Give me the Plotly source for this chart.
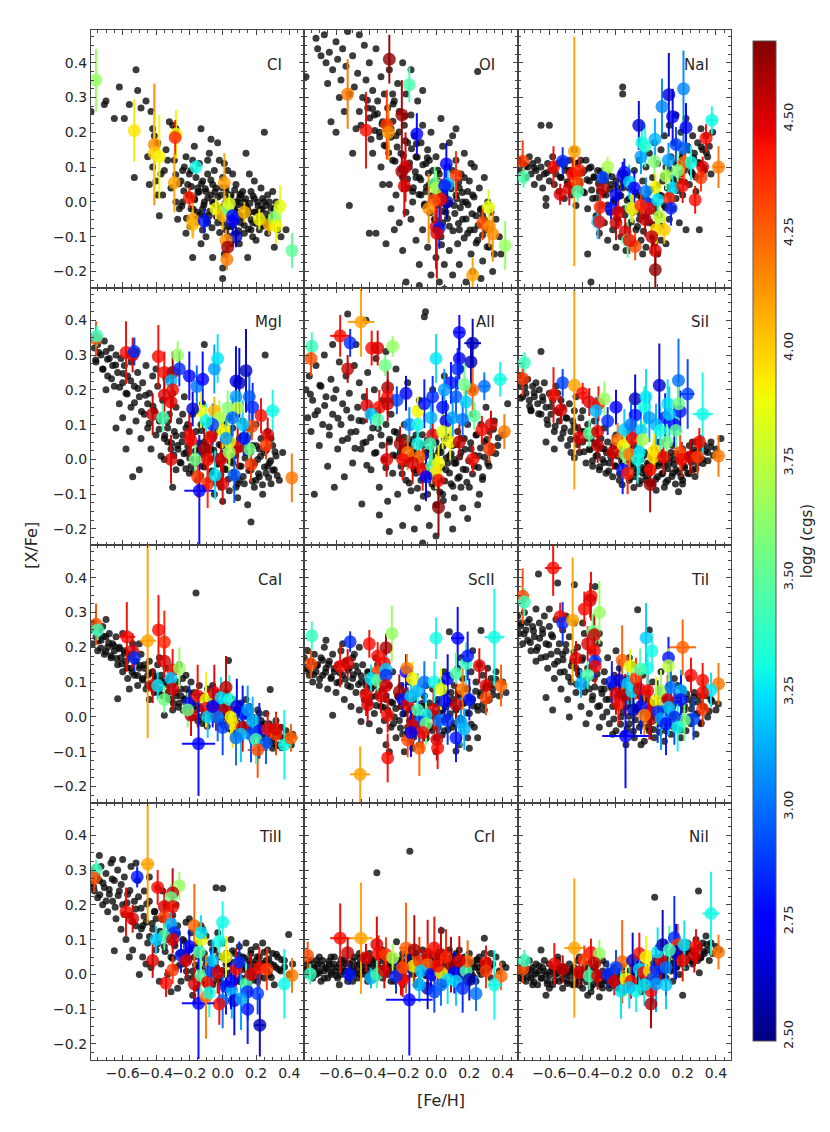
import plotly.graph_objects as go
from plotly.colors import sample_colorscale

# abundance panels, top-left to bottom-right
LABELS = ['CI', 'OI', 'NaI', 'MgI', 'AlI', 'SiI', 'CaI', 'ScII', 'TiI', 'TiII', 'CrI', 'NiI']

# field stars (black): ([Fe/H], [X/Fe])
FIELD_CI = [(-0.79,0.26),(-0.71,0.28),(-0.70,0.29),(-0.65,0.24),(-0.62,0.33),(-0.59,0.24),(-0.56,0.28),(-0.53,0.07),(-0.52,0.38),(-0.51,0.32),
    (-0.49,0.27),(-0.46,0.29),(-0.45,0.13),(-0.44,0.05),(-0.43,0.26),(-0.42,0.21),(-0.42,0.10),(-0.41,0.19),(-0.40,0.06),(-0.39,0.02),
    (-0.39,0.17),(-0.38,-0.04),(-0.37,0.08),(-0.35,0.09),(-0.33,0.12),(-0.32,0.23),(-0.31,0.04),(-0.30,0.22),(-0.29,0.12),(-0.28,0.21),
    (-0.28,0.00),(-0.27,-0.05),(-0.26,-0.02),(-0.25,0.06),(-0.24,0.00),(-0.23,0.10),(-0.22,0.13),(-0.22,-0.09),(-0.21,0.05),(-0.20,0.02),
    (-0.19,0.09),(-0.19,-0.02),(-0.18,0.12),(-0.18,-0.16),(-0.17,0.16),(-0.16,0.07),(-0.16,-0.05),(-0.15,0.04),(-0.15,-0.03),(-0.14,0.11),
    (-0.13,0.21),(-0.13,-0.12),(-0.12,0.06),(-0.12,-0.02),(-0.11,0.00),(-0.10,0.03),(-0.10,-0.10),(-0.09,0.08),(-0.09,-0.06),(-0.08,0.14),
    (-0.08,-0.04),(-0.07,0.18),(-0.06,0.05),(-0.06,0.00),(-0.06,-0.16),(-0.05,0.09),(-0.04,-0.01),(-0.03,0.17),(-0.03,-0.06),(-0.02,0.12),
    (-0.02,-0.03),(-0.01,0.02),(0.00,0.07),(0.00,-0.19),(0.00,-0.22),(0.01,0.11),(0.01,-0.15),(0.02,0.04),(0.02,-0.08),(0.03,0.09),
    (0.03,-0.02),(0.04,-0.07),(0.05,0.02),(0.05,-0.12),(0.06,0.08),(0.06,-0.05),(0.07,0.00),(0.08,0.05),(0.08,-0.09),(0.09,-0.03),
    (0.09,0.00),(0.10,0.01),(0.10,-0.12),(0.11,-0.06),(0.12,0.03),(0.12,-0.04),(0.13,-0.09),(0.14,0.14),(0.14,-0.01),(0.15,-0.02),
    (0.15,-0.16),(0.16,0.08),(0.17,0.03),(0.17,-0.08),(0.18,-0.06),(0.18,-0.10),(0.19,0.01),(0.19,0.06),(0.20,-0.11),(0.20,-0.03),
    (0.21,0.00),(0.22,-0.04),(0.22,-0.08),(0.23,0.04),(0.23,-0.02),(0.24,-0.07),(0.25,0.20),(0.25,0.00),(0.26,-0.01),(0.26,-0.05),
    (0.27,-0.09),(0.28,0.00),(0.28,-0.07),(0.29,-0.04),(0.30,0.03),(0.31,-0.13),(0.31,-0.02),(0.33,-0.08),(0.35,-0.10),(0.38,-0.08),
    (-0.34,0.15),(-0.36,0.02),(-0.24,0.09),(-0.17,0.01),(-0.14,0.03),(-0.11,-0.04),(-0.07,0.02),(-0.04,0.04),(-0.01,-0.05),(0.04,0.01),
    (0.07,-0.02),(0.11,0.02),(0.13,0.00),(0.16,-0.03),(0.24,0.01),(0.27,0.02),(0.32,0.00),(-0.20,0.08),(-0.09,0.12),(0.02,0.00)]
CORE_CI = [(-0.245,-0.012),(-0.233,0.031),(-0.217,-0.047),(-0.204,0.018),(-0.196,-0.071),(-0.188,0.044),(-0.176,-0.021),(-0.168,0.006),(-0.157,-0.058),(-0.149,0.027),
    (-0.137,-0.036),(-0.128,0.052),(-0.121,-0.081),(-0.113,-0.009),(-0.104,0.038),(-0.097,-0.052),(-0.089,0.011),(-0.078,-0.027),(-0.071,0.063),(-0.064,-0.074),
    (-0.053,-0.004),(-0.046,0.029),(-0.037,-0.043),(-0.029,0.014),(-0.018,-0.088),(-0.011,-0.017),(-0.003,0.041),(0.006,-0.061),(0.014,-0.006),(0.023,0.026),
    (0.031,-0.097),(0.039,-0.038),(0.047,0.015),(0.056,-0.071),(0.063,-0.019),(0.072,0.034),(0.079,-0.056),(0.088,-0.008),(0.096,-0.083),(0.104,0.022),
    (0.113,-0.044),(0.121,-0.013),(0.129,-0.067),(0.138,0.009),(0.146,-0.036),(0.155,-0.078),(0.163,-0.004),(0.171,-0.051),(0.182,0.017),(0.191,-0.029),
    (0.203,-0.062),(0.212,-0.011),(0.224,-0.048),(0.236,-0.021),(0.248,-0.066),(0.262,-0.034),(0.276,-0.052),(0.291,-0.018),(-0.262,0.052),(-0.281,0.078)]

FIELD_OI = [(-0.78,0.36),(-0.72,0.47),(-0.71,0.44),(-0.69,0.42),(-0.67,0.48),(-0.66,0.40),(-0.64,0.43),(-0.63,0.23),(-0.62,0.38),(-0.60,0.46),
    (-0.60,0.20),(-0.59,0.41),(-0.57,0.35),(-0.56,0.44),(-0.55,0.26),(-0.54,0.39),(-0.53,0.49),(-0.52,0.31),(-0.52,-0.01),(-0.50,0.14),
    (-0.50,0.42),(-0.49,0.33),(-0.48,0.21),(-0.47,0.37),(-0.46,0.48),(-0.45,0.22),(-0.44,0.30),(-0.43,0.45),(-0.42,0.35),(-0.41,0.27),
    (-0.40,-0.09),(-0.40,0.40),(-0.39,0.18),(-0.38,0.32),(-0.37,0.25),(-0.36,0.44),(-0.36,-0.09),(-0.35,0.29),(-0.34,0.20),(-0.33,0.36),
    (-0.33,0.10),(-0.32,0.23),(-0.31,0.31),(-0.30,0.16),(-0.30,-0.12),(-0.29,0.27),(-0.28,0.05),(-0.28,0.38),(-0.27,0.21),(-0.27,-0.02),
    (-0.26,0.12),(-0.25,0.29),(-0.25,-0.08),(-0.24,0.19),(-0.24,0.02),(-0.23,0.34),(-0.22,0.26),(-0.22,-0.06),(-0.21,0.14),(-0.20,0.07),
    (-0.20,0.40),(-0.20,-0.14),(-0.19,0.22),(-0.18,0.31),(-0.18,-0.03),(-0.18,-0.23),(-0.17,0.17),(-0.16,0.10),(-0.15,0.25),(-0.15,0.38),
    (-0.15,-0.05),(-0.14,0.03),(-0.14,0.00),(-0.13,0.19),(-0.12,0.13),(-0.12,-0.11),(-0.11,0.29),(-0.10,0.07),(-0.10,-0.18),(-0.10,-0.24),
    (-0.09,0.17),(-0.08,0.22),(-0.08,0.32),(-0.08,-0.08),(-0.07,-0.01),(-0.06,0.11),(-0.06,0.03),(-0.05,0.15),(-0.05,-0.13),(-0.04,0.05),
    (-0.03,0.20),(-0.03,-0.21),(-0.02,0.09),(-0.01,-0.05),(0.00,0.13),(0.00,0.00),(0.00,-0.16),(0.01,0.02),(0.02,0.08),(0.02,-0.23),
    (0.03,-0.10),(0.03,0.24),(0.04,0.16),(0.05,0.03),(0.05,-0.18),(0.06,-0.03),(0.06,-0.01),(0.07,0.10),(0.08,-0.07),(0.08,0.17),
    (0.08,-0.14),(0.09,0.05),(0.10,0.19),(0.10,-0.21),(0.11,-0.01),(0.12,0.12),(0.12,0.21),(0.12,0.02),(0.13,-0.12),(0.14,0.04),
    (0.14,-0.18),(0.15,0.08),(0.16,-0.05),(0.16,0.00),(0.17,0.14),(0.17,0.07),(0.18,0.00),(0.18,-0.23),(0.19,-0.09),(0.20,0.06),
    (0.21,-0.15),(0.21,0.11),(0.22,0.02),(0.22,-0.20),(0.23,0.10),(0.24,-0.04),(0.25,-0.11),(0.25,0.375),(0.26,0.04),(0.27,-0.02),
    (0.27,-0.22),(0.28,-0.17),(0.28,-0.04),(0.29,0.07),(0.30,-0.08),(0.32,-0.13),(0.33,-0.03),(0.34,-0.20),(0.36,-0.05),(0.38,-0.10),
    (0.39,-0.15),(0.05,-0.25),(-0.65,0.34),(-0.58,0.30),(-0.46,0.26),(-0.38,0.14),(-0.32,0.05),(-0.26,0.31),(-0.17,0.04),(-0.12,0.07),
    (-0.04,0.12),(0.04,-0.06),(0.10,0.09),(0.14,-0.08),(0.19,0.03),(0.23,-0.08),(0.31,0.00),(0.35,-0.15),(-0.09,0.02),(0.01,0.06)]
CORE_OI = [(-0.412,0.292),(-0.398,0.241),(-0.381,0.268),(-0.367,0.205),(-0.352,0.253),(-0.338,0.187),(-0.324,0.224),(-0.311,0.163),(-0.297,0.209),(-0.284,0.141),
    (-0.271,0.186),(-0.259,0.232),(-0.246,0.117),(-0.233,0.158),(-0.221,0.201),(-0.208,0.093),(-0.196,0.134),(-0.184,0.176),(-0.171,0.066),(-0.159,0.112),
    (-0.147,0.153),(-0.136,0.041),(-0.124,0.087),(-0.113,0.128),(-0.102,0.021),(-0.091,0.064),(-0.079,0.107),(-0.068,-0.006),(-0.057,0.043),(-0.046,0.082),
    (-0.036,-0.031),(-0.025,0.018),(-0.014,0.058),(-0.004,-0.052),(0.007,-0.009),(0.018,0.036),(0.028,-0.071),(0.039,-0.027),(0.049,0.012),(0.059,0.061),
    (0.069,-0.048),(0.081,-0.004),(0.091,0.038),(0.102,-0.083),(0.113,-0.033),(0.124,0.009),(0.135,-0.062),(0.146,-0.017),(0.158,0.027),(0.169,-0.104),
    (0.181,-0.049),(0.192,-0.008),(0.204,-0.081),(0.216,-0.034),(0.228,0.014),(0.241,-0.118),(0.253,-0.067),(0.266,-0.023),(0.279,-0.096),(0.293,-0.052),
    (0.307,-0.129),(0.322,-0.079),(-0.052,0.127),(0.011,0.091),(0.074,0.049),(0.137,0.057),(-0.118,0.167),(-0.187,0.247),(-0.257,0.281),(0.033,-0.123)]

FIELD_NAI = [(-0.78,0.12),(-0.77,0.09),(-0.76,0.11),(-0.74,0.07),(-0.73,0.10),(-0.72,0.13),(-0.71,0.08),(-0.70,0.11),(-0.69,0.05),(-0.68,0.09),
    (-0.67,0.12),(-0.66,0.07),(-0.65,0.22),(-0.65,0.10),(-0.64,0.04),(-0.63,0.08),(-0.62,0.01),(-0.62,-0.01),(-0.61,0.11),(-0.60,0.22),
    (-0.60,0.06),(-0.59,0.09),(-0.58,0.13),(-0.57,0.05),(-0.56,0.08),(-0.55,0.11),(-0.54,0.03),(-0.53,0.07),(-0.52,0.12),(-0.51,0.01),
    (-0.50,0.09),(-0.49,0.05),(-0.48,0.12),(-0.47,0.02),(-0.46,0.08),(-0.45,0.15),(-0.44,-0.01),(-0.43,0.11),(-0.42,0.06),(-0.41,0.12),
    (-0.40,0.03),(-0.39,0.09),(-0.38,0.12),(-0.37,-0.02),(-0.37,-0.15),(-0.36,0.06),(-0.35,0.10),(-0.35,-0.23),(-0.34,0.01),(-0.33,0.07),
    (-0.32,-0.04),(-0.31,0.09),(-0.30,0.03),(-0.29,-0.01),(-0.28,0.07),(-0.27,-0.06),(-0.26,0.02),(-0.25,0.08),(-0.24,-0.03),(-0.23,0.05),
    (-0.22,-0.08),(-0.21,0.00),(-0.20,0.06),(-0.19,-0.05),(-0.18,0.02),(-0.17,-0.10),(-0.16,0.33),(-0.16,0.31),(-0.16,0.04),(-0.15,-0.02),
    (-0.14,0.07),(-0.13,-0.07),(-0.12,0.01),(-0.11,-0.12),(-0.10,0.05),(-0.10,-0.03),(-0.09,0.09),(-0.08,-0.08),(-0.07,0.02),(-0.06,0.12),
    (-0.06,-0.05),(-0.05,-0.11),(-0.04,0.06),(-0.03,-0.01),(-0.02,0.10),(-0.02,-0.13),(-0.01,0.03),(0.00,-0.06),(0.00,0.14),(0.01,0.00),
    (0.02,-0.10),(0.02,0.07),(0.03,0.17),(0.04,-0.03),(0.05,0.11),(0.05,-0.15),(0.06,0.02),(0.07,0.15),(0.07,-0.07),(0.08,0.06),
    (0.09,0.19),(0.09,-0.01),(0.10,-0.12),(0.10,0.10),(0.11,0.04),(0.12,0.22),(0.12,-0.05),(0.13,0.13),(0.14,0.07),(0.14,-0.02),
    (0.15,0.17),(0.16,0.01),(0.16,0.25),(0.17,0.11),(0.18,-0.06),(0.18,0.06),(0.19,0.20),(0.20,0.14),(0.20,0.02),(0.21,0.09),
    (0.22,-0.08),(0.22,0.24),(0.23,0.16),(0.24,0.05),(0.25,0.12),(0.26,0.19),(0.26,0.08),(0.27,0.14),(0.28,0.03),(0.29,0.17),
    (0.30,0.11),(0.30,-0.08),(0.31,0.21),(0.32,0.15),(0.33,0.09),(0.34,0.19),(0.35,0.13),(0.36,0.16),(0.37,0.08),(0.38,0.20),
    (-0.30,-0.09),(-0.25,-0.11),(-0.20,-0.13),(-0.14,-0.14),(-0.09,-0.12),(-0.04,-0.15),(0.03,-0.12),(0.07,-0.11),(0.12,0.02),(0.15,0.05)]
CORE_NAI = [(-0.532,0.071),(-0.511,0.104),(-0.493,0.058),(-0.478,0.091),(-0.462,0.038),(-0.447,0.077),(-0.431,0.112),(-0.418,0.049),(-0.403,0.083),(-0.389,0.026),
    (-0.374,0.064),(-0.361,0.097),(-0.346,0.034),(-0.333,0.072),(-0.318,0.011),(-0.305,0.053),(-0.291,0.088),(-0.277,0.024),(-0.263,0.061),(-0.249,-0.009),
    (-0.236,0.036),(-0.223,0.072),(-0.209,0.007),(-0.196,0.043),(-0.183,-0.024),(-0.171,0.018),(-0.158,0.056),(-0.146,-0.038),(-0.133,0.004),(-0.121,0.039),
    (-0.108,-0.058),(-0.096,-0.014),(-0.083,0.027),(-0.071,-0.071),(-0.059,-0.031),(-0.047,0.012),(-0.035,-0.084),(-0.023,-0.043),(-0.011,0.003),(0.001,-0.027),
    (0.013,0.036),(0.025,-0.066),(0.037,-0.011),(0.049,0.048),(0.061,-0.039),(0.073,0.018),(0.085,0.074),(0.097,-0.017),(0.109,0.041),(0.121,0.093),
    (0.133,0.008),(0.146,0.062),(0.158,0.112),(0.171,0.033),(0.184,0.081),(0.197,0.128),(0.211,0.057),(0.224,0.103),(0.238,0.149),(0.252,0.087),
    (0.266,0.126),(0.281,0.071),(0.296,0.113),(0.312,0.158),(0.327,0.098),(0.343,0.141),(-0.571,0.094),(-0.617,0.084),(-0.689,0.098),(-0.744,0.103)]

FIELD_MGI = [(-0.79,0.35),(-0.77,0.32),(-0.76,0.28),(-0.75,0.33),(-0.73,0.30),(-0.72,0.26),(-0.71,0.34),(-0.70,0.31),(-0.69,0.24),(-0.68,0.29),
    (-0.67,0.32),(-0.66,0.27),(-0.65,0.21),(-0.64,0.30),(-0.63,0.25),(-0.62,0.16),(-0.61,0.29),(-0.60,0.22),(-0.60,0.12),(-0.59,0.27),
    (-0.58,0.19),(-0.57,0.24),(-0.56,0.08),(-0.55,0.28),(-0.55,0.15),(-0.54,-0.05),(-0.53,0.21),(-0.52,0.11),(-0.51,0.25),(-0.50,0.18),
    (-0.50,-0.03),(-0.49,0.06),(-0.48,0.22),(-0.47,0.13),(-0.46,0.27),(-0.45,0.09),(-0.44,0.19),(-0.43,0.03),(-0.42,0.24),(-0.41,0.14),
    (-0.40,0.07),(-0.39,0.21),(-0.38,0.11),(-0.37,0.01),(-0.36,0.17),(-0.35,0.06),(-0.34,0.23),(-0.33,0.09),(-0.32,0.13),(-0.31,0.03),
    (-0.30,0.19),(-0.30,-0.08),(-0.29,0.08),(-0.28,0.15),(-0.27,0.04),(-0.26,0.11),(-0.25,-0.01),(-0.24,0.07),(-0.23,0.18),(-0.22,0.02),
    (-0.21,0.10),(-0.20,-0.04),(-0.19,0.05),(-0.18,0.13),(-0.17,0.00),(-0.16,0.08),(-0.15,-0.06),(-0.14,0.03),(-0.13,0.10),(-0.12,-0.02),
    (-0.11,0.33),(-0.11,0.05),(-0.10,-0.08),(-0.09,0.02),(-0.08,0.11),(-0.07,-0.04),(-0.06,0.06),(-0.05,-0.10),(-0.04,0.01),(-0.03,0.08),
    (-0.02,-0.06),(-0.01,0.04),(0.00,-0.12),(0.00,0.00),(0.01,0.10),(0.02,-0.03),(0.03,0.05),(0.04,-0.09),(0.05,0.01),(0.06,0.09),
    (0.07,-0.05),(0.08,0.03),(0.09,-0.11),(0.10,0.06),(0.11,-0.02),(0.12,0.11),(0.13,-0.07),(0.14,0.02),(0.15,-0.13),(0.16,0.07),
    (0.17,-0.03),(0.17,-0.18),(0.18,0.04),(0.19,-0.08),(0.20,0.10),(0.21,0.00),(0.22,-0.05),(0.23,0.06),(0.24,-0.10),(0.25,0.02),
    (0.255,0.30),(0.26,-0.04),(0.27,0.08),(0.28,-0.01),(0.29,-0.07),(0.30,0.04),(0.31,-0.03),(0.32,0.01),(0.34,-0.06),(0.36,0.02),
    (-0.35,0.00),(-0.28,-0.03),(-0.22,0.09),(-0.16,0.14),(-0.12,0.16),(-0.07,0.03),(-0.03,-0.01),(0.02,0.07),(0.06,-0.01),(0.10,-0.06),
    (0.13,0.04),(0.18,-0.01),(0.22,0.03),(0.27,-0.02),(-0.45,0.16),(-0.40,0.26),(-0.33,0.05),(-0.24,0.13),(-0.19,-0.02),(-0.09,0.07),
    (-0.01,-0.08),(0.04,0.12),(0.08,-0.08),(0.15,0.09),(0.20,-0.06),(0.29,0.06),(-0.52,0.31),(-0.70,0.20),(-0.64,0.09),(-0.58,0.03)]
CORE_MGI = [(-0.307,0.047),(-0.293,0.012),(-0.281,0.068),(-0.268,0.029),(-0.256,-0.008),(-0.244,0.051),(-0.232,0.016),(-0.221,-0.027),(-0.209,0.038),(-0.198,0.004),
    (-0.187,0.062),(-0.176,-0.036),(-0.164,0.024),(-0.153,-0.011),(-0.142,0.047),(-0.131,-0.048),(-0.119,0.013),(-0.108,-0.022),(-0.097,0.039),(-0.086,-0.059),
    (-0.075,0.001),(-0.064,-0.033),(-0.053,0.026),(-0.042,-0.068),(-0.031,-0.014),(-0.021,0.043),(-0.011,-0.044),(0.001,0.018),(0.012,-0.027),(0.023,0.035),
    (0.034,-0.057),(0.045,-0.006),(0.056,0.052),(0.067,-0.038),(0.078,0.011),(0.089,-0.071),(0.101,-0.019),(0.112,0.031),(0.123,-0.049),(0.134,0.004),
    (0.145,0.058),(0.157,-0.032),(0.168,0.021),(0.179,-0.063),(0.191,-0.012),(0.203,0.039),(0.215,-0.041),(0.227,0.009),(0.239,-0.073),(0.251,-0.022),
    (0.263,0.028),(0.276,-0.052),(0.288,-0.004),(0.301,-0.031),(0.314,0.022),(0.327,-0.046),(-0.381,0.087),(-0.362,0.126),(-0.347,0.069),(-0.331,0.108),
    (-0.418,0.153),(-0.441,0.104),(-0.463,0.184),(-0.487,0.138),(-0.508,0.204),(-0.529,0.163),(-0.552,0.226),(-0.573,0.188),(-0.596,0.247),(-0.618,0.207),
    (-0.642,0.271),(-0.667,0.232),(-0.691,0.288),(-0.718,0.259),(-0.743,0.307),(-0.762,0.286),(-0.128,0.083),(-0.052,0.067),(0.041,0.072),(0.118,0.068)]

FIELD_ALI = [(-0.78,0.20),(-0.77,0.12),(-0.76,0.24),(-0.75,0.08),(-0.74,0.17),(-0.73,-0.10),(-0.72,0.27),(-0.71,0.14),(-0.70,0.04),(-0.69,0.21),
    (-0.68,0.10),(-0.67,0.30),(-0.66,0.18),(-0.65,-0.02),(-0.64,0.07),(-0.63,0.23),(-0.62,0.13),(-0.61,-0.08),(-0.60,0.20),(-0.59,0.03),
    (-0.58,0.28),(-0.57,0.10),(-0.56,0.16),(-0.55,-0.05),(-0.54,0.24),(-0.53,0.418),(-0.53,0.06),(-0.52,0.19),(-0.51,0.12),(-0.50,-0.01),
    (-0.49,0.27),(-0.48,0.08),(-0.47,0.15),(-0.46,0.22),(-0.45,0.03),(-0.445,-0.128),(-0.44,0.11),(-0.43,0.18),(-0.42,0.40),(-0.42,0.05),
    (-0.41,0.25),(-0.40,0.13),(-0.39,-0.03),(-0.38,0.09),(-0.37,0.20),(-0.36,0.02),(-0.35,0.14),(-0.34,-0.08),(-0.33,0.07),(-0.32,0.17),
    (-0.31,0.00),(-0.30,0.10),(-0.29,-0.12),(-0.28,-0.207),(-0.28,0.05),(-0.27,0.13),(-0.26,-0.04),(-0.25,0.08),(-0.24,0.01),(-0.23,-0.10),
    (-0.22,0.06),(-0.21,-0.02),(-0.20,-0.19),(-0.20,0.03),(-0.19,0.10),(-0.18,-0.06),(-0.17,0.00),(-0.16,0.05),(-0.15,-0.09),(-0.14,0.02),
    (-0.13,-0.03),(-0.12,0.07),(-0.11,-0.14),(-0.10,0.00),(-0.09,-0.06),(-0.08,0.04),(-0.08,-0.24),(-0.07,0.41),(-0.063,0.424),(-0.06,-0.02),
    (-0.05,-0.10),(-0.04,0.03),(-0.04,-0.19),(-0.03,-0.05),(-0.02,0.01),(-0.01,-0.08),(0.00,0.05),(0.00,-0.13),(0.01,-0.02),(0.02,-0.06),
    (0.03,0.02),(0.04,-0.10),(0.05,0.06),(0.06,-0.03),(0.07,-0.16),(0.08,0.01),(0.09,-0.07),(0.10,0.04),(0.11,-0.11),(0.12,-0.01),
    (0.13,0.08),(0.14,-0.05),(0.15,0.02),(0.16,-0.14),(0.17,0.06),(0.18,-0.03),(0.19,0.10),(0.20,-0.08),(0.21,0.03),(0.22,0.13),
    (0.23,-0.02),(0.24,0.07),(0.25,-0.13),(0.26,0.01),(0.27,0.10),(0.28,-0.05),(0.29,0.05),(0.30,0.15),(0.31,-0.01),(0.32,0.08),
    (0.33,0.02),(0.35,0.11),(0.37,0.04),(0.40,0.07),(0.43,0.16),(0.22,0.20),(0.15,0.26),(0.05,0.24),(-0.02,0.20),(-0.10,0.17),
    (-0.17,0.22),(-0.24,0.26),(-0.30,0.31),(-0.36,0.29),(-0.48,0.33),(-0.62,0.33),(-0.12,-0.04),(-0.06,0.02),(0.02,0.03),(0.07,-0.01),
    (0.11,0.00),(0.15,-0.08),(-0.02,-0.01),(-0.15,0.04),(0.10,-0.20),(0.00,-0.22),(-0.13,-0.20),(0.19,-0.17),(0.26,-0.10),(-0.34,-0.16)]
CORE_ALI = [(-0.214,0.023),(-0.203,-0.041),(-0.192,0.064),(-0.181,-0.012),(-0.171,0.037),(-0.161,-0.068),(-0.151,0.008),(-0.141,0.057),(-0.131,-0.029),(-0.121,0.021),
    (-0.111,-0.083),(-0.101,0.046),(-0.092,-0.017),(-0.082,0.071),(-0.072,-0.052),(-0.063,0.009),(-0.053,0.054),(-0.043,-0.036),(-0.034,0.028),(-0.024,-0.071),
    (-0.015,-0.006),(-0.005,0.047),(0.004,-0.049),(0.014,0.019),(0.023,-0.094),(0.033,-0.023),(0.042,0.038),(0.052,-0.062),(0.061,0.004),(0.071,0.066),
    (0.081,-0.039),(0.091,0.016),(0.101,-0.077),(0.111,-0.011),(0.121,0.043),(0.131,-0.054),(0.142,0.007),(0.152,0.061),(0.163,-0.028),(0.174,0.029),
    (0.185,-0.066),(0.196,-0.004),(0.208,0.048),(0.219,-0.042),(0.231,0.012),(0.243,0.071),(0.255,-0.023),(0.267,0.033),(0.279,-0.058),(0.292,0.006),
    (0.305,0.057),(0.318,-0.019),(0.331,0.038),(0.345,0.087),(0.359,0.017),(0.374,0.062),(-0.236,0.077),(-0.258,0.013),(-0.279,0.058),(-0.301,-0.024),
    (-0.323,0.041),(-0.346,0.089),(-0.369,0.018),(-0.392,0.063),(-0.415,-0.017),(-0.438,0.047),(-0.462,0.112),(-0.486,0.032),(-0.511,0.078),(-0.536,0.142),
    (-0.562,0.054),(-0.588,0.118),(-0.614,0.176),(-0.641,0.093),(-0.668,0.155),(-0.697,0.213),(-0.726,0.128),(-0.754,0.187),(0.044,-0.118),(-0.076,-0.106)]

FIELD_SII = [(-0.78,0.21),(-0.77,0.24),(-0.76,0.18),(-0.75,0.22),(-0.74,0.19),(-0.73,0.23),(-0.72,0.17),(-0.71,0.14),(-0.70,0.21),(-0.69,0.18),
    (-0.68,0.22),(-0.67,0.16),(-0.66,0.20),(-0.65,0.31),(-0.65,0.13),(-0.64,0.18),(-0.63,0.22),(-0.62,0.15),(-0.61,0.10),(-0.60,0.19),
    (-0.59,0.13),(-0.58,0.17),(-0.57,0.03),(-0.57,0.08),(-0.56,0.14),(-0.55,0.19),(-0.54,0.11),(-0.53,0.06),(-0.52,0.15),(-0.51,0.09),
    (-0.50,0.12),(-0.49,0.04),(-0.48,0.16),(-0.47,0.08),(-0.46,0.11),(-0.45,0.005),(-0.45,0.14),(-0.44,0.06),(-0.43,0.09),(-0.42,0.02),
    (-0.41,0.12),(-0.40,0.05),(-0.39,0.08),(-0.38,-0.01),(-0.37,0.10),(-0.36,0.03),(-0.35,0.06),(-0.34,-0.02),(-0.33,0.08),(-0.32,0.01),
    (-0.31,0.04),(-0.30,-0.03),(-0.29,0.06),(-0.28,0.00),(-0.27,0.03),(-0.26,-0.04),(-0.25,0.05),(-0.24,-0.01),(-0.23,0.02),(-0.22,-0.05),
    (-0.21,0.04),(-0.20,-0.02),(-0.19,0.01),(-0.18,-0.06),(-0.17,0.03),(-0.163,-0.073),(-0.16,-0.01),(-0.15,0.02),(-0.14,-0.04),(-0.13,0.00),
    (-0.12,-0.06),(-0.11,0.03),(-0.10,-0.02),(-0.09,-0.05),(-0.08,0.01),(-0.07,-0.03),(-0.06,-0.07),(-0.05,0.00),(-0.04,-0.04),(-0.03,0.02),
    (-0.02,-0.06),(-0.01,-0.01),(0.00,-0.04),(0.01,0.01),(0.02,-0.07),(0.03,-0.02),(0.04,0.00),(0.05,-0.05),(0.06,-0.01),(0.07,0.02),
    (0.08,-0.04),(0.09,-0.02),(0.10,0.01),(0.11,-0.06),(0.12,-0.01),(0.13,0.02),(0.14,-0.04),(0.15,0.00),(0.16,-0.03),(0.175,-0.093),
    (0.18,0.01),(0.19,-0.05),(0.20,0.03),(0.21,-0.02),(0.22,0.01),(0.23,-0.04),(0.24,0.04),(0.25,0.00),(0.26,-0.03),(0.27,0.02),
    (0.28,0.05),(0.29,-0.01),(0.30,0.03),(0.31,0.06),(0.32,0.00),(0.33,0.04),(0.35,0.02),(0.37,0.05),(0.40,0.03),(0.43,0.06),
    (-0.71,0.142),(-0.62,0.05),(-0.53,0.17),(-0.47,0.02),(-0.40,0.14),(-0.33,0.11),(-0.27,0.09),(-0.20,0.07),(-0.15,0.06),(-0.09,0.04),
    (-0.03,-0.03),(0.03,0.03),(0.09,-0.08),(0.14,0.04),(0.20,-0.06),(0.26,0.05),(-0.56,0.21),(-0.44,0.18),(-0.12,0.08),(0.06,0.05)]
CORE_SII = [(-0.356,0.028),(-0.341,-0.004),(-0.327,0.047),(-0.312,0.012),(-0.298,-0.021),(-0.284,0.031),(-0.271,-0.009),(-0.257,0.019),(-0.244,-0.033),(-0.231,0.006),
    (-0.218,0.036),(-0.205,-0.018),(-0.192,0.014),(-0.179,-0.042),(-0.166,-0.004),(-0.154,0.024),(-0.141,-0.027),(-0.129,0.009),(-0.117,-0.053),(-0.105,-0.012),
    (-0.093,0.017),(-0.081,-0.038),(-0.069,-0.002),(-0.057,-0.061),(-0.045,-0.023),(-0.033,0.011),(-0.021,-0.047),(-0.009,-0.016),(0.003,-0.071),(0.015,-0.031),
    (0.027,0.004),(0.039,-0.057),(0.051,-0.019),(0.063,0.012),(0.075,-0.042),(0.087,-0.008),(0.099,-0.066),(0.111,-0.027),(0.123,0.006),(0.136,-0.049),
    (0.148,-0.014),(0.161,0.018),(0.173,-0.036),(0.186,-0.004),(0.199,-0.071),(0.212,-0.024),(0.225,0.013),(0.238,-0.041),(0.252,-0.009),(0.266,0.028),
    (0.279,-0.027),(0.293,0.009),(0.307,0.042),(0.322,-0.012),(0.337,0.024),(0.352,-0.004),(0.368,0.036),(0.384,0.011),(-0.373,0.061),(-0.392,0.022),
    (-0.411,0.081),(-0.431,0.043),(-0.452,0.097),(-0.473,0.057),(-0.495,0.118),(-0.518,0.076),(-0.541,0.134),(-0.565,0.095),(-0.589,0.152),(-0.614,0.114),
    (-0.639,0.169),(-0.664,0.131),(-0.691,0.192),(-0.718,0.153),(-0.746,0.207),(-0.771,0.176),(-0.093,-0.081),(0.041,-0.089),(0.157,-0.071),(0.274,-0.049)]

FIELD_CAI = [(-0.79,0.25),(-0.78,0.21),(-0.77,0.27),(-0.76,0.23),(-0.75,0.19),(-0.74,0.25),(-0.73,0.22),(-0.72,0.26),(-0.71,0.18),(-0.70,0.23),
    (-0.69,0.20),(-0.68,0.24),(-0.67,0.17),(-0.66,0.21),(-0.65,0.19),(-0.64,0.23),(-0.63,0.052),(-0.63,0.15),(-0.62,0.20),(-0.61,0.17),
    (-0.60,0.13),(-0.59,0.19),(-0.58,0.16),(-0.57,0.11),(-0.56,0.18),(-0.55,0.14),(-0.54,0.21),(-0.53,0.12),(-0.52,0.16),(-0.51,0.09),
    (-0.50,0.14),(-0.49,0.18),(-0.48,0.11),(-0.47,0.15),(-0.46,0.08),(-0.45,0.12),(-0.44,0.16),(-0.43,0.09),(-0.42,0.13),(-0.41,0.07),
    (-0.40,0.11),(-0.39,0.15),(-0.38,0.08),(-0.37,0.12),(-0.36,0.06),(-0.35,0.005),(-0.35,0.10),(-0.34,0.14),(-0.33,0.07),(-0.32,0.11),
    (-0.31,0.05),(-0.30,0.09),(-0.29,0.13),(-0.28,0.06),(-0.27,0.10),(-0.26,0.04),(-0.25,0.08),(-0.24,0.11),(-0.23,0.05),(-0.22,0.08),
    (-0.21,0.03),(-0.20,0.07),(-0.19,0.10),(-0.18,0.04),(-0.17,0.07),(-0.16,0.356),(-0.16,0.02),(-0.15,0.06),(-0.14,0.09),(-0.13,0.03),
    (-0.12,0.06),(-0.11,0.01),(-0.10,0.05),(-0.09,0.08),(-0.08,0.02),(-0.07,0.05),(-0.06,0.00),(-0.05,0.04),(-0.04,0.07),(-0.03,0.01),
    (-0.02,0.04),(-0.01,-0.01),(0.00,0.03),(0.01,0.06),(0.02,0.00),(0.035,0.162),(0.03,0.03),(0.04,-0.02),(0.05,0.02),(0.06,0.05),
    (0.07,-0.01),(0.08,0.02),(0.09,-0.03),(0.10,0.01),(0.11,0.04),(0.12,-0.02),(0.13,0.01),(0.14,-0.04),(0.15,0.00),(0.16,0.03),
    (0.17,-0.03),(0.18,0.00),(0.19,-0.05),(0.20,-0.01),(0.21,0.02),(0.22,-0.04),(0.23,-0.01),(0.24,-0.06),(0.25,-0.02),(0.26,0.01),
    (0.27,-0.05),(0.28,-0.02),(0.285,0.079),(0.29,-0.07),(0.30,-0.03),(0.31,-0.06),(0.32,-0.01),(0.33,-0.05),(0.34,-0.08),(0.35,-0.03),
    (0.36,-0.06),(0.38,-0.04),(0.40,-0.07),(0.42,-0.05),(-0.70,0.28),(-0.60,0.24),(-0.50,0.21),(-0.44,0.05),(-0.38,0.17),(-0.30,0.02),
    (-0.22,0.12),(-0.14,0.00),(-0.06,0.09),(0.02,0.07),(0.08,-0.05),(0.14,0.05),(0.22,0.01),(0.30,-0.09),(-0.26,0.15),(-0.10,-0.01),
    (0.06,0.00),(0.18,-0.07),(0.26,-0.08),(-0.56,0.08)]
CORE_CAI = [(-0.748,0.218),(-0.731,0.198),(-0.716,0.232),(-0.701,0.187),(-0.684,0.213),(-0.669,0.176),(-0.652,0.204),(-0.637,0.168),(-0.621,0.196),(-0.606,0.153),
    (-0.589,0.183),(-0.574,0.141),(-0.558,0.172),(-0.543,0.128),(-0.527,0.161),(-0.511,0.119),(-0.496,0.148),(-0.481,0.106),(-0.465,0.139),(-0.449,0.094),
    (-0.434,0.126),(-0.418,0.084),(-0.403,0.117),(-0.387,0.071),(-0.372,0.104),(-0.356,0.062),(-0.341,0.094),(-0.326,0.051),(-0.311,0.083),(-0.296,0.039),
    (-0.281,0.071),(-0.266,0.028),(-0.251,0.061),(-0.236,0.019),(-0.222,0.052),(-0.207,0.009),(-0.193,0.043),(-0.178,-0.002),(-0.164,0.032),(-0.149,-0.011),
    (-0.135,0.024),(-0.121,-0.019),(-0.107,0.014),(-0.093,-0.027),(-0.079,0.006),(-0.065,0.037),(-0.051,-0.006),(-0.037,0.027),(-0.023,-0.016),(-0.009,0.016),
    (0.005,-0.024),(0.019,0.008),(0.033,-0.033),(0.047,-0.001),(0.061,-0.041),(0.075,-0.009),(0.089,0.021),(0.103,-0.018),(0.117,0.012),(0.131,-0.029),
    (0.145,0.003),(0.159,-0.037),(0.173,-0.006),(0.187,-0.046),(0.201,-0.014),(0.215,-0.054),(0.229,-0.023),(0.243,-0.061),(0.257,-0.031),(0.271,-0.068),
    (0.285,-0.039),(0.299,-0.076),(0.313,-0.046),(0.327,-0.082),(0.341,-0.054),(0.355,-0.089),(0.369,-0.061),(0.384,-0.072),(0.398,-0.058),(0.412,-0.081)]

FIELD_SCII = [(-0.79,0.17),(-0.78,0.14),(-0.77,0.19),(-0.76,0.12),(-0.75,0.16),(-0.74,0.10),(-0.73,0.18),(-0.72,0.13),(-0.71,0.15),(-0.70,0.09),
    (-0.69,0.17),(-0.68,0.12),(-0.67,0.20),(-0.66,0.14),(-0.65,0.08),(-0.64,0.16),(-0.63,0.11),(-0.62,0.005),(-0.62,0.18),(-0.61,0.13),
    (-0.60,0.07),(-0.59,0.15),(-0.58,0.10),(-0.57,0.19),(-0.56,0.12),(-0.55,0.05),(-0.54,0.16),(-0.53,0.09),(-0.52,0.14),(-0.51,0.03),
    (-0.50,0.11),(-0.49,0.18),(-0.48,0.07),(-0.47,0.13),(-0.46,0.02),(-0.45,-0.013),(-0.45,0.10),(-0.44,0.15),(-0.43,0.05),(-0.42,0.09),
    (-0.41,0.13),(-0.40,-0.02),(-0.40,0.04),(-0.39,0.08),(-0.38,0.12),(-0.37,0.01),(-0.36,0.06),(-0.35,0.10),(-0.34,-0.04),(-0.33,0.03),
    (-0.32,0.08),(-0.31,-0.01),(-0.30,0.05),(-0.30,-0.08),(-0.29,0.02),(-0.28,0.09),(-0.27,-0.03),(-0.26,0.04),(-0.25,0.00),(-0.24,-0.06),
    (-0.23,0.06),(-0.22,-0.01),(-0.21,0.03),(-0.20,-0.05),(-0.19,-0.10),(-0.19,0.01),(-0.18,0.07),(-0.17,-0.03),(-0.16,0.02),(-0.15,-0.07),
    (-0.14,0.00),(-0.13,0.05),(-0.12,-0.04),(-0.11,0.01),(-0.10,-0.08),(-0.09,0.03),(-0.08,-0.02),(-0.07,0.06),(-0.06,-0.05),(-0.05,0.00),
    (-0.04,0.04),(-0.03,-0.03),(-0.02,0.08),(-0.01,0.01),(0.00,-0.06),(0.01,0.05),(0.02,-0.01),(0.03,0.10),(0.04,0.02),(0.05,-0.04),
    (0.06,0.07),(0.07,0.00),(0.08,0.245),(0.08,0.12),(0.09,0.04),(0.10,-0.03),(0.11,0.09),(0.12,0.02),(0.12,-0.098),(0.13,0.14),
    (0.14,0.06),(0.15,-0.01),(0.16,0.11),(0.17,0.04),(0.18,0.16),(0.19,-0.06),(0.19,0.08),(0.20,0.01),(0.21,0.13),(0.22,0.05),
    (0.23,-0.03),(0.24,0.10),(0.25,0.03),(0.26,0.15),(0.27,0.248),(0.27,0.07),(0.28,0.12),(0.29,0.02),(0.30,0.09),(0.31,0.14),
    (0.32,0.05),(0.33,0.11),(0.34,0.08),(0.36,0.13),(0.38,0.06),(0.40,0.10),(0.42,0.07),(-0.66,0.22),(-0.56,0.21),(-0.46,0.20),
    (-0.36,0.17),(-0.26,0.13),(-0.16,0.10),(-0.06,0.09),(0.05,0.13),(0.15,0.17),(0.22,0.19),(-0.28,-0.10),(-0.14,-0.09),(0.00,-0.10),
    (0.14,-0.08),(0.20,-0.09),(-0.08,0.04),(0.09,0.07),(-0.35,0.15),(-0.50,0.17),(0.25,-0.06),(-0.21,0.09)]
CORE_SCII = [(-0.771,0.136),(-0.752,0.158),(-0.734,0.121),(-0.716,0.147),(-0.698,0.109),(-0.681,0.163),(-0.663,0.128),(-0.645,0.151),(-0.628,0.114),(-0.611,0.139),
    (-0.594,0.098),(-0.577,0.127),(-0.561,0.153),(-0.544,0.108),(-0.528,0.134),(-0.512,0.087),(-0.496,0.121),(-0.481,0.146),(-0.465,0.093),(-0.449,0.118),
    (-0.434,0.071),(-0.418,0.104),(-0.403,0.128),(-0.388,0.058),(-0.373,0.089),(-0.358,0.033),(-0.343,0.072),(-0.328,0.103),(-0.313,0.027),(-0.299,0.061),
    (-0.284,0.007),(-0.269,0.043),(-0.255,-0.019),(-0.241,0.024),(-0.227,0.057),(-0.213,-0.032),(-0.199,0.008),(-0.186,0.041),(-0.172,-0.046),(-0.159,-0.012),
    (-0.146,0.027),(-0.133,-0.058),(-0.121,-0.021),(-0.108,0.016),(-0.096,-0.043),(-0.084,-0.006),(-0.071,0.031),(-0.059,-0.061),(-0.047,-0.024),(-0.035,0.012),
    (-0.023,-0.039),(-0.011,0.001),(0.001,0.037),(0.013,-0.029),(0.025,0.014),(0.037,-0.052),(0.049,-0.008),(0.061,0.029),(0.073,-0.036),(0.085,0.009),
    (0.097,0.052),(0.109,-0.019),(0.121,0.024),(0.134,0.067),(0.146,-0.004),(0.159,0.038),(0.172,0.081),(0.185,0.012),(0.198,0.056),(0.211,-0.021),
    (0.224,0.031),(0.238,0.074),(0.252,0.019),(0.266,0.061),(0.281,0.036),(0.296,0.083),(0.311,0.047),(0.327,0.092),(0.343,0.064),(0.359,0.108)]

FIELD_TII = [(-0.79,0.29),(-0.78,0.24),(-0.77,0.27),(-0.76,0.21),(-0.75,0.30),(-0.74,0.25),(-0.73,0.22),(-0.72,0.28),(-0.71,0.19),(-0.70,0.26),
    (-0.69,0.23),(-0.68,0.31),(-0.67,0.20),(-0.665,0.411),(-0.66,0.27),(-0.65,0.17),(-0.64,0.24),(-0.63,0.29),(-0.62,0.056),(-0.62,0.21),
    (-0.61,0.14),(-0.60,0.26),(-0.59,0.18),(-0.58,0.23),(-0.57,0.11),(-0.56,0.28),(-0.55,0.385),(-0.55,0.16),(-0.54,0.21),(-0.53,0.08),
    (-0.52,0.25),(-0.51,0.13),(-0.50,0.19),(-0.49,0.05),(-0.48,0.23),(-0.47,0.10),(-0.46,0.16),(-0.45,0.38),(-0.45,0.27),(-0.44,0.07),
    (-0.43,0.20),(-0.42,0.12),(-0.41,0.03),(-0.40,0.17),(-0.39,0.24),(-0.38,0.09),(-0.37,0.14),(-0.36,0.01),(-0.35,0.19),(-0.34,0.06),
    (-0.33,0.11),(-0.325,0.375),(-0.32,0.16),(-0.31,0.03),(-0.30,0.21),(-0.29,0.08),(-0.28,0.00),(-0.27,0.13),(-0.26,0.05),(-0.25,0.17),
    (-0.24,-0.02),(-0.23,0.09),(-0.22,0.03),(-0.21,0.12),(-0.20,-0.04),(-0.19,0.06),(-0.18,0.14),(-0.17,0.00),(-0.16,0.08),(-0.15,-0.05),
    (-0.14,0.03),(-0.13,0.11),(-0.12,-0.02),(-0.11,0.05),(-0.10,0.15),(-0.09,-0.06),(-0.08,0.02),(-0.07,0.308),(-0.07,0.09),(-0.06,-0.03),
    (-0.05,0.04),(-0.04,0.12),(-0.03,-0.07),(-0.02,0.01),(-0.01,0.07),(0.00,0.25),(0.00,-0.04),(0.01,0.03),(0.02,0.10),(0.03,-0.06),
    (0.04,0.00),(0.05,0.06),(0.06,-0.02),(0.07,0.13),(0.08,0.02),(0.09,-0.07),(0.10,0.05),(0.11,-0.01),(0.12,0.09),(0.13,-0.05),
    (0.14,0.03),(0.15,0.11),(0.16,-0.03),(0.17,0.06),(0.18,0.00),(0.19,-0.06),(0.20,0.08),(0.21,0.02),(0.22,-0.04),(0.23,0.05),
    (0.24,0.11),(0.25,-0.02),(0.26,0.04),(0.27,0.07),(0.28,-0.05),(0.29,0.01),(0.30,0.06),(0.31,-0.02),(0.32,0.03),(0.33,0.08),
    (0.35,0.00),(0.37,0.05),(0.40,0.02),(0.414,0.037),(-0.60,0.31),(-0.50,0.29),(-0.40,0.27),(-0.30,0.24),(-0.20,0.19),(-0.12,0.17),
    (-0.58,0.02),(-0.48,0.00),(-0.38,-0.02),(-0.30,-0.03),(-0.22,-0.05),(-0.14,-0.08),(-0.05,-0.08),(0.03,0.04),(0.10,-0.04),(0.17,0.09),
    (0.24,0.00),(-0.27,0.08),(-0.15,0.06),(-0.03,0.05),(0.06,0.08),(0.14,0.00),(-0.44,0.14),(-0.36,0.08),(-0.68,0.16),(-0.52,0.18)]
CORE_TII = [(-0.772,0.262),(-0.751,0.238),(-0.733,0.271),(-0.714,0.214),(-0.695,0.247),(-0.677,0.191),(-0.658,0.226),(-0.641,0.252),(-0.622,0.173),(-0.604,0.207),
    (-0.587,0.236),(-0.569,0.151),(-0.552,0.189),(-0.535,0.128),(-0.518,0.164),(-0.501,0.208),(-0.485,0.114),(-0.468,0.147),(-0.452,0.186),(-0.436,0.094),
    (-0.421,0.131),(-0.405,0.163),(-0.389,0.071),(-0.374,0.108),(-0.358,0.142),(-0.343,0.049),(-0.328,0.086),(-0.313,0.123),(-0.298,0.032),(-0.284,0.067),
    (-0.269,0.102),(-0.255,0.014),(-0.241,0.051),(-0.227,0.083),(-0.213,-0.006),(-0.199,0.032),(-0.186,0.064),(-0.172,-0.021),(-0.159,0.015),(-0.146,0.047),
    (-0.133,-0.034),(-0.121,0.002),(-0.108,0.036),(-0.096,-0.041),(-0.084,-0.008),(-0.071,0.027),(-0.059,0.061),(-0.047,-0.019),(-0.035,0.014),(-0.023,0.048),
    (-0.011,-0.029),(0.001,0.006),(0.013,0.041),(0.025,-0.036),(0.037,-0.002),(0.049,0.032),(0.061,-0.044),(0.073,-0.011),(0.085,0.024),(0.097,0.058),
    (0.109,-0.021),(0.121,0.013),(0.134,0.047),(0.146,-0.029),(0.159,0.006),(0.172,0.039),(0.185,-0.038),(0.198,-0.004),(0.211,0.031),(0.224,0.066),
    (0.238,-0.012),(0.252,0.023),(0.266,0.057),(0.281,0.008),(0.296,0.042),(0.311,-0.017),(0.327,0.028),(0.343,0.061),(0.359,0.016),(0.377,0.044)]

FIELD_TIII = [(-0.79,0.26),(-0.78,0.30),(-0.77,0.24),(-0.76,0.28),(-0.75,0.22),(-0.74,0.342),(-0.74,0.27),(-0.73,0.31),(-0.72,0.20),(-0.71,0.25),
    (-0.70,0.29),(-0.69,0.18),(-0.68,0.23),(-0.67,0.32),(-0.66,0.33),(-0.66,0.21),(-0.65,0.068),(-0.65,0.27),(-0.64,0.16),(-0.63,0.30),
    (-0.62,0.24),(-0.61,0.13),(-0.60,0.20),(-0.59,0.28),(-0.58,0.10),(-0.57,0.23),(-0.56,0.17),(-0.55,0.31),(-0.54,0.07),(-0.53,0.21),
    (-0.52,0.14),(-0.51,0.27),(-0.50,0.00),(-0.50,0.11),(-0.49,0.19),(-0.48,0.05),(-0.47,0.24),(-0.46,0.15),(-0.45,0.09),(-0.44,0.21),
    (-0.43,0.02),(-0.42,0.13),(-0.41,0.18),(-0.40,0.07),(-0.39,0.25),(-0.38,0.11),(-0.37,0.03),(-0.36,0.16),(-0.35,0.08),(-0.34,0.20),
    (-0.33,0.00),(-0.32,0.12),(-0.31,-0.05),(-0.31,0.05),(-0.30,0.17),(-0.29,0.09),(-0.28,0.02),(-0.27,0.14),(-0.26,0.06),(-0.25,-0.02),
    (-0.24,0.10),(-0.23,0.03),(-0.22,0.15),(-0.21,-0.01),(-0.20,0.07),(-0.19,0.12),(-0.18,0.01),(-0.17,0.05),(-0.16,-0.04),(-0.15,0.09),
    (-0.14,0.02),(-0.13,0.14),(-0.12,-0.02),(-0.11,0.06),(-0.10,0.11),(-0.09,0.00),(-0.08,0.04),(-0.07,0.09),(-0.06,-0.03),(-0.05,0.07),
    (-0.04,0.249),(-0.04,0.02),(-0.03,0.12),(-0.02,-0.01),(-0.01,0.05),(0.00,0.247),(0.00,0.09),(0.01,0.00),(0.02,0.06),(0.03,-0.04),
    (0.04,0.03),(0.05,0.10),(0.06,0.01),(0.07,0.06),(0.08,-0.02),(0.09,0.04),(0.10,0.08),(0.11,-0.01),(0.12,0.05),(0.13,0.02),
    (0.14,0.09),(0.15,-0.03),(0.16,0.04),(0.17,0.07),(0.18,0.00),(0.19,0.03),(0.20,0.08),(0.21,-0.02),(0.22,0.05),(0.23,0.02),
    (0.24,0.09),(0.25,-0.01),(0.26,0.04),(0.27,0.07),(0.28,0.00),(0.29,0.03),(0.30,0.06),(0.31,-0.03),(0.32,0.02),(0.33,0.05),
    (0.35,0.01),(0.37,0.04),(0.396,0.115),(0.40,0.00),(0.42,0.03),(-0.60,0.33),(-0.52,0.32),(-0.44,0.28),(-0.36,0.24),(-0.28,0.20),
    (-0.20,0.16),(-0.12,0.13),(-0.56,0.05),(-0.46,0.03),(-0.38,-0.02),(-0.27,-0.04),(-0.18,-0.06),(-0.08,-0.05),(0.05,-0.03),(0.15,0.01),
    (0.25,0.03),(-0.33,0.10),(-0.22,0.06),(-0.10,0.03),(0.02,0.03),(0.11,0.03),(0.20,0.04),(-0.48,0.14),(-0.40,0.16),(-0.14,0.08)]
CORE_TIII = [(-0.774,0.252),(-0.755,0.281),(-0.737,0.229),(-0.718,0.263),(-0.699,0.211),(-0.681,0.244),(-0.663,0.274),(-0.645,0.193),(-0.627,0.227),(-0.609,0.258),
    (-0.591,0.172),(-0.574,0.206),(-0.557,0.241),(-0.539,0.151),(-0.522,0.188),(-0.505,0.223),(-0.488,0.131),(-0.472,0.167),(-0.456,0.202),(-0.439,0.109),
    (-0.423,0.146),(-0.407,0.181),(-0.391,0.088),(-0.376,0.124),(-0.361,0.158),(-0.345,0.066),(-0.331,0.103),(-0.316,0.137),(-0.301,0.046),(-0.287,0.082),
    (-0.272,0.117),(-0.258,0.027),(-0.244,0.063),(-0.231,0.096),(-0.217,0.009),(-0.203,0.044),(-0.189,0.078),(-0.176,-0.008),(-0.163,0.027),(-0.149,0.061),
    (-0.136,-0.021),(-0.124,0.013),(-0.111,0.047),(-0.099,-0.029),(-0.086,0.004),(-0.074,0.038),(-0.061,0.071),(-0.049,-0.016),(-0.037,0.019),(-0.025,0.052),
    (-0.013,-0.024),(-0.001,0.011),(0.011,0.044),(0.023,-0.031),(0.035,0.003),(0.047,0.036),(0.059,0.068),(0.071,-0.012),(0.083,0.022),(0.095,0.055),
    (0.107,-0.021),(0.119,0.014),(0.132,0.047),(0.144,-0.008),(0.157,0.027),(0.169,0.059),(0.182,-0.017),(0.195,0.018),(0.208,0.051),(0.221,-0.006),
    (0.235,0.031),(0.249,0.064),(0.263,0.011),(0.277,0.044),(0.292,-0.009),(0.307,0.026),(0.322,0.058),(0.338,0.014),(0.354,0.042),(0.371,0.021)]

FIELD_CRI = [(-0.79,0.02),(-0.78,0.00),(-0.77,0.03),(-0.76,0.01),(-0.75,0.04),(-0.74,-0.01),(-0.73,0.02),(-0.72,0.00),(-0.71,0.03),(-0.70,0.01),
    (-0.69,-0.02),(-0.68,0.04),(-0.67,0.01),(-0.66,0.02),(-0.65,-0.01),(-0.64,0.03),(-0.63,0.00),(-0.62,0.02),(-0.61,0.05),(-0.60,0.01),
    (-0.59,-0.01),(-0.58,0.03),(-0.57,0.00),(-0.56,0.02),(-0.55,0.04),(-0.54,0.01),(-0.53,-0.02),(-0.52,0.03),(-0.51,0.00),(-0.50,0.02),
    (-0.49,0.05),(-0.48,0.01),(-0.47,-0.01),(-0.46,0.03),(-0.45,0.00),(-0.44,0.02),(-0.43,0.05),(-0.42,0.01),(-0.41,-0.02),(-0.40,0.03),
    (-0.39,0.00),(-0.38,0.04),(-0.37,0.02),(-0.36,-0.01),(-0.355,0.292),(-0.35,0.03),(-0.34,0.01),(-0.33,0.05),(-0.32,-0.01),(-0.31,0.02),
    (-0.30,0.04),(-0.29,0.00),(-0.28,0.03),(-0.27,0.01),(-0.26,0.05),(-0.25,-0.02),(-0.24,0.02),(-0.237,0.094),(-0.23,0.04),(-0.22,0.00),
    (-0.21,0.03),(-0.20,0.06),(-0.19,0.01),(-0.18,-0.01),(-0.17,0.04),(-0.157,0.354),(-0.16,0.02),(-0.15,0.05),(-0.14,0.00),(-0.13,0.03),
    (-0.12,0.06),(-0.11,0.01),(-0.10,-0.02),(-0.09,0.04),(-0.08,0.02),(-0.07,0.05),(-0.06,0.00),(-0.05,0.03),(-0.04,0.06),(-0.03,0.01),
    (-0.02,-0.01),(-0.01,0.04),(0.00,0.02),(0.01,0.05),(0.02,0.00),(0.032,0.126),(0.03,0.03),(0.04,0.06),(0.05,0.01),(0.06,-0.02),
    (0.07,0.04),(0.08,0.02),(0.09,0.05),(0.10,0.00),(0.11,0.03),(0.12,0.06),(0.13,0.01),(0.14,-0.01),(0.15,0.04),(0.16,0.02),
    (0.17,0.05),(0.18,0.00),(0.19,0.03),(0.20,0.06),(0.21,0.01),(0.22,0.03),(0.23,-0.01),(0.24,0.04),(0.25,0.02),(0.26,0.05),
    (0.27,0.00),(0.28,0.03),(0.29,0.104),(0.29,0.06),(0.30,0.01),(0.31,0.04),(0.32,0.02),(0.33,-0.01),(0.34,0.03),(0.36,0.05),
    (0.38,0.01),(0.40,0.03),(0.42,0.02),(-0.70,0.05),(-0.58,-0.03),(-0.46,0.06),(-0.32,0.07),(-0.20,-0.03),(-0.08,0.07),(0.04,-0.03),
    (0.14,0.07),(0.24,-0.02),(0.33,0.06),(-0.63,0.05),(-0.50,-0.02),(-0.27,-0.02),(-0.12,-0.03),(0.08,0.07),(0.20,-0.02),(-0.40,0.06)]
CORE_CRI = [(-0.776,0.013),(-0.761,0.034),(-0.746,-0.006),(-0.731,0.022),(-0.716,0.041),(-0.701,0.004),(-0.686,0.027),(-0.671,-0.011),(-0.657,0.016),(-0.642,0.038),
    (-0.627,0.006),(-0.613,0.029),(-0.598,-0.004),(-0.584,0.019),(-0.569,0.043),(-0.555,0.008),(-0.541,0.031),(-0.527,-0.009),(-0.513,0.014),(-0.499,0.037),
    (-0.485,0.003),(-0.471,0.026),(-0.457,0.047),(-0.443,0.011),(-0.429,0.033),(-0.415,-0.003),(-0.401,0.021),(-0.387,0.044),(-0.373,0.009),(-0.359,0.031),
    (-0.346,-0.006),(-0.332,0.017),(-0.318,0.039),(-0.304,0.006),(-0.291,0.027),(-0.277,0.049),(-0.263,0.013),(-0.249,0.036),(-0.236,-0.002),(-0.222,0.021),
    (-0.209,0.043),(-0.195,0.008),(-0.182,0.031),(-0.168,0.052),(-0.155,0.014),(-0.141,0.037),(-0.128,0.002),(-0.115,0.024),(-0.101,0.047),(-0.088,0.011),
    (-0.075,0.033),(-0.061,-0.004),(-0.048,0.019),(-0.035,0.042),(-0.021,0.007),(-0.008,0.029),(0.005,0.051),(0.018,0.014),(0.031,0.036),(0.044,-0.002),
    (0.057,0.022),(0.071,0.044),(0.084,0.008),(0.097,0.031),(0.111,0.053),(0.124,0.016),(0.137,0.038),(0.151,0.003),(0.164,0.026),(0.178,0.048),
    (0.191,0.012),(0.205,0.034),(0.219,-0.003),(0.233,0.021),(0.247,0.043),(0.261,0.009),(0.276,0.031),(0.291,0.016),(0.306,0.039),(0.322,0.024)]

FIELD_NII = [(-0.79,0.01),(-0.78,-0.01),(-0.77,0.02),(-0.76,0.00),(-0.75,0.03),(-0.74,-0.02),(-0.73,0.01),(-0.72,0.04),(-0.71,-0.01),(-0.70,0.02),
    (-0.69,0.00),(-0.68,0.03),(-0.67,-0.03),(-0.66,0.01),(-0.65,0.07),(-0.65,-0.01),(-0.64,0.02),(-0.63,0.04),(-0.62,-0.06),(-0.62,0.00),
    (-0.61,-0.02),(-0.60,0.03),(-0.59,0.01),(-0.58,-0.03),(-0.57,0.02),(-0.56,0.00),(-0.55,0.04),(-0.54,-0.02),(-0.53,0.01),(-0.52,-0.04),
    (-0.51,0.02),(-0.50,0.00),(-0.49,-0.02),(-0.48,0.03),(-0.47,0.01),(-0.46,-0.03),(-0.45,-0.03),(-0.45,0.02),(-0.44,0.00),(-0.43,0.04),
    (-0.42,-0.02),(-0.41,0.01),(-0.40,-0.04),(-0.39,0.02),(-0.38,0.00),(-0.37,-0.06),(-0.37,0.03),(-0.36,-0.01),(-0.35,0.01),(-0.34,-0.03),
    (-0.33,0.02),(-0.32,-0.01),(-0.31,0.03),(-0.30,-0.065),(-0.30,0.00),(-0.29,-0.03),(-0.28,0.01),(-0.27,-0.02),(-0.26,0.03),(-0.25,0.00),
    (-0.24,-0.04),(-0.23,0.01),(-0.22,-0.02),(-0.21,0.02),(-0.20,-0.01),(-0.19,-0.04),(-0.18,0.01),(-0.17,-0.02),(-0.16,0.02),(-0.15,-0.03),
    (-0.14,0.00),(-0.13,-0.04),(-0.12,0.01),(-0.11,-0.02),(-0.10,0.02),(-0.09,-0.04),(-0.08,0.00),(-0.07,-0.02),(-0.06,0.03),(-0.05,-0.01),
    (-0.04,0.01),(-0.03,-0.04),(-0.02,0.02),(-0.01,-0.02),(0.00,0.01),(0.01,-0.03),(0.02,0.03),(0.032,0.222),(0.03,0.00),(0.04,0.04),
    (0.05,-0.02),(0.06,0.02),(0.07,0.05),(0.08,0.00),(0.09,0.03),(0.10,-0.01),(0.11,0.04),(0.12,0.06),(0.13,0.01),(0.14,0.03),
    (0.15,0.07),(0.16,0.02),(0.17,0.05),(0.18,0.00),(0.19,0.08),(0.20,-0.06),(0.20,0.03),(0.21,0.06),(0.22,0.02),(0.23,0.09),
    (0.24,0.04),(0.25,0.07),(0.26,0.03),(0.27,0.06),(0.28,0.10),(0.29,0.04),(0.295,0.24),(0.30,0.005),(0.30,0.08),(0.31,0.05),
    (0.32,0.09),(0.33,0.06),(0.34,0.11),(0.35,0.07),(0.36,0.04),(0.37,0.09),(0.38,0.06),(0.40,0.08),(0.42,0.07),(-0.70,-0.03),
    (-0.55,0.05),(-0.42,0.05),(-0.28,0.04),(-0.16,-0.05),(-0.05,-0.05),(0.05,0.05),(0.14,-0.02),(0.22,0.07),(-0.60,-0.04),(-0.35,-0.05)]
CORE_NII = [(-0.776,0.006),(-0.759,-0.014),(-0.742,0.019),(-0.726,-0.006),(-0.709,0.012),(-0.693,-0.021),(-0.677,0.004),(-0.661,0.024),(-0.645,-0.011),(-0.629,0.009),
    (-0.613,-0.027),(-0.598,-0.003),(-0.582,0.016),(-0.567,-0.018),(-0.552,0.004),(-0.537,0.021),(-0.522,-0.012),(-0.507,0.007),(-0.492,-0.026),(-0.477,-0.004),
    (-0.463,0.014),(-0.448,-0.017),(-0.434,0.003),(-0.419,-0.031),(-0.405,-0.009),(-0.391,0.011),(-0.377,-0.021),(-0.363,0.001),(-0.349,-0.036),(-0.335,-0.012),
    (-0.321,0.006),(-0.307,-0.026),(-0.294,-0.004),(-0.281,-0.039),(-0.267,-0.017),(-0.254,0.003),(-0.241,-0.029),(-0.228,-0.008),(-0.215,0.012),(-0.202,-0.033),
    (-0.189,-0.012),(-0.176,0.006),(-0.163,-0.024),(-0.151,-0.004),(-0.138,-0.041),(-0.125,-0.016),(-0.113,0.004),(-0.101,-0.028),(-0.088,-0.007),(-0.076,0.012),
    (-0.064,-0.031),(-0.052,-0.011),(-0.039,0.008),(-0.027,-0.022),(-0.015,-0.002),(-0.003,0.017),(0.009,-0.013),(0.021,0.006),(0.033,0.024),(0.045,-0.004),
    (0.058,0.014),(0.071,0.033),(0.084,0.004),(0.097,0.023),(0.111,0.042),(0.124,0.012),(0.138,0.031),(0.152,0.051),(0.166,0.021),(0.181,0.041),
    (0.195,0.061),(0.211,0.029),(0.226,0.049),(0.242,0.068),(0.258,0.038),(0.274,0.058),(0.291,0.077),(0.308,0.047),(0.326,0.066),(0.344,0.086)]

# programme stars: ([Fe/H], [X/Fe], err [Fe/H], err [X/Fe], logg)
STARS_CI = [(-0.76,0.35,0,0.09,3.65),(-0.53,0.205,0,0.09,3.95),(-0.41,0.165,0,0.175,4.15),(-0.41,0.14,0,0.12,4.0),(-0.38,0.13,0,0.12,3.9),
    (-0.28,0.195,0,0.07,3.9),(-0.285,0.185,0,0.05,4.4),(-0.29,0.055,0,0.085,4.1),(-0.20,0.012,0,0.03,4.4),(-0.16,0.10,0,0.02,3.3),
    (-0.18,-0.05,0,0.05,4.1),(-0.18,-0.065,0,0.04,4.05),(-0.11,-0.055,0,0.035,2.8),(-0.04,-0.02,0,0.03,3.9),(0.01,0.055,0,0.085,4.1),
    (0.0,-0.04,0,0.04,4.05),(0.03,-0.02,0,0.03,3.55),(0.04,-0.005,0,0.03,3.85),(0.06,-0.04,0,0.03,2.8),(0.06,-0.055,0,0.04,2.75),
    (0.08,-0.10,0,0.03,2.6),(0.02,-0.11,0,0.03,4.15),(0.03,-0.13,0,0.03,4.6),(0.025,-0.165,0,0.03,4.2),(0.13,-0.03,0,0.03,4.05),
    (0.22,-0.05,0,0.03,3.9),(0.28,-0.065,0,0.03,4.05),(0.31,-0.045,0,0.03,3.6),(0.32,-0.07,0,0.05,3.9),(0.345,-0.012,0,0.06,3.85),
    (0.416,-0.14,0,0.05,3.5)]

STARS_OI = [(-0.28,0.41,0,0.07,4.65),(-0.16,0.337,0,0.05,3.45),(-0.53,0.31,0,0.1,4.2),(-0.42,0.206,0,0.11,4.45),(-0.295,0.222,0,0.1,4.35),
    (-0.285,0.20,0,0.08,4.15),(-0.205,0.25,0,0.1,4.6),(-0.115,0.195,0,0.06,2.75),(-0.183,0.10,0,0.1,4.5),(-0.205,0.088,0,0.06,4.6),
    (-0.19,0.046,0,0.09,4.5),(0.062,0.109,0,0.06,2.75),(0.12,0.076,0,0.07,4.35),(-0.008,0.052,0,0.05,3.5),(0.0,0.04,0,0.05,3.7),
    (0.07,0.052,0,0.05,3.2),(0.052,0.047,0,0.06,2.8),(0.066,0.0,0,0.05,2.6),(0.03,0.007,0,0.06,4.45),(-0.01,0.004,0,0.06,4.3),
    (-0.044,-0.019,0,0.1,4.15),(0.0,-0.072,0,0.12,4.5),(0.02,-0.075,0,0.06,2.8),(0.005,-0.09,0,0.13,4.5),(0.315,-0.015,0,0.05,3.85),
    (0.28,-0.06,0,0.05,4.3),(0.32,-0.07,0,0.06,4.15),(0.34,-0.092,0,0.08,4.15),(0.415,-0.125,0,0.07,3.65),(0.22,-0.21,0,0.05,4.1)]

STARS_NAI = [(-0.45,0.145,0,0.33,4.1),(-0.76,0.117,0,0.06,4.35),(-0.755,0.071,0,0.03,3.45),(-0.575,0.10,0,0.06,4.45),(-0.52,0.117,0,0.04,2.85),
    (-0.535,0.022,0,0.03,4.5),(-0.46,0.08,0,0.05,4.45),(-0.42,0.09,0,0.04,4.4),(-0.48,0.04,0,0.05,4.5),(-0.43,0.055,0,0.03,4.3),
    (-0.43,0.03,0,0.03,3.45),(-0.28,0.04,0,0.03,4.55),(-0.25,0.10,0,0.03,3.7),(-0.28,0.07,0,0.03,2.9),(-0.295,-0.015,0,0.05,4.4),
    (-0.31,-0.057,0,0.05,3.2),(-0.30,-0.057,0,0.05,4.45),(-0.23,-0.02,0,0.03,2.8),(-0.187,-0.03,0,0.04,4.5),(-0.20,-0.06,0,0.05,4.55),
    (-0.145,-0.086,0,0.04,4.5),(-0.13,-0.11,0,0.05,3.5),(-0.085,-0.128,0,0.04,4.3),(-0.12,-0.11,0,0.04,4.45),(-0.15,0.085,0,0.04,2.8),
    (-0.16,0.075,0,0.04,2.65),(-0.12,0.057,0,0.05,3.2),(-0.20,0.02,0,0.04,2.7),(-0.09,0.04,0,0.05,2.75),(-0.11,-0.018,0,0.04,3.6),
    (-0.10,-0.02,0,0.04,3.95),(-0.063,0.22,0,0.07,2.65),(-0.045,0.17,0,0.06,3.3),(-0.05,0.13,0,0.05,3.1),(-0.025,0.16,0,0.06,3.35),
    (0.034,0.18,0,0.06,3.15),(0.076,0.274,0,0.08,3.05),(0.117,0.308,0,0.12,2.65),(0.14,0.245,0,0.08,2.7),(0.205,0.325,0,0.11,3.05),
    (0.22,0.214,0,0.07,2.7),(0.205,0.155,0,0.06,3.0),(0.16,0.165,0,0.05,2.9),(0.115,0.12,0,0.05,3.1),(0.03,0.116,0,0.04,3.6),
    (0.10,0.075,0,0.04,3.7),(0.036,0.042,0,0.04,3.9),(0.14,0.04,0,0.04,3.25),(-0.02,0.03,0,0.04,3.05),(-0.01,-0.005,0,0.05,2.9),
    (0.12,0.01,0,0.04,4.4),(0.05,0.006,0,0.04,3.25),(0.06,-0.043,0,0.04,3.75),(0.13,-0.018,0,0.05,2.85),(-0.005,-0.02,0,0.04,4.45),
    (-0.05,-0.01,0,0.05,4.4),(-0.025,-0.05,0,0.05,4.55),(0.04,-0.08,0,0.04,3.95),(0.09,-0.08,0,0.04,4.0),(0.015,-0.10,0,0.05,4.55),
    (0.036,-0.14,0,0.04,4.5),(0.036,-0.195,0,0.05,4.65),(0.34,0.183,0,0.04,4.45),(0.375,0.235,0.03,0.04,3.3),(0.415,0.10,0.03,0.06,4.2),
    (0.32,0.10,0,0.03,4.5),(0.31,0.07,0,0.04,4.35),(0.21,0.113,0,0.05,4.25),(0.25,0.113,0,0.05,3.3),(0.20,0.047,0,0.05,4.45),
    (0.275,0.006,0,0.04,4.45),(0.17,0.09,0,0.05,3.6)]

STARS_MGI = [(-0.76,0.347,0,0.05,4.3),(-0.755,0.355,0,0.03,3.4),(-0.58,0.307,0,0.09,4.45),(-0.54,0.30,0,0.05,4.5),(-0.53,0.31,0,0.04,2.85),
    (-0.386,0.296,0,0.09,4.45),(-0.27,0.30,0,0.04,3.65),(-0.35,0.25,0,0.06,4.45),(-0.30,0.25,0,0.06,4.6),(-0.26,0.26,0,0.05,2.85),
    (-0.20,0.24,0,0.07,2.75),(-0.31,0.226,0,0.04,3.15),(-0.30,0.20,0,0.05,4.45),(-0.35,0.185,0,0.05,4.5),(-0.31,0.165,0,0.06,4.5),
    (-0.42,0.13,0,0.06,4.55),(-0.36,0.12,0,0.04,3.45),(-0.155,0.21,0,0.06,3.0),(-0.12,0.23,0,0.08,2.75),(-0.05,0.26,0,0.07,3.1),
    (-0.03,0.29,0,0.07,3.25),(0.08,0.225,0,0.1,2.7),(0.10,0.22,0,0.1,2.6),(0.14,0.255,0,0.12,2.6),(0.16,0.18,0,0.07,2.95),
    (0.08,0.18,0,0.06,3.1),(0.03,0.148,0,0.05,3.6),(0.09,0.148,0,0.05,3.75),(-0.13,0.14,0,0.05,3.85),(-0.18,0.145,0,0.05,2.65),
    (-0.05,0.14,0,0.04,4.05),(-0.02,0.12,0,0.05,3.7),(0.0,0.083,0,0.05,3.9),(0.18,0.15,0,0.07,2.85),(0.23,0.126,0,0.05,4.45),
    (0.30,0.14,0.04,0.06,3.3),(0.175,0.095,0,0.04,4.3),(0.27,0.07,0,0.05,4.5),(0.26,0.04,0,0.04,4.35),(0.415,-0.053,0,0.07,4.2),
    (0.17,-0.015,0,0.05,4.35),(0.16,0.03,0,0.05,3.55),(0.09,0.035,0,0.06,4.5),(0.04,0.05,0,0.06,3.85),(-0.07,0.065,0,0.05,4.45),
    (-0.11,0.03,0,0.06,4.6),(-0.20,0.07,0,0.06,4.5),(-0.19,0.055,0,0.05,4.45),(-0.165,0.0,0,0.05,3.55),(-0.09,0.0,0,0.06,4.45),
    (-0.01,0.0,0,0.06,4.5),(0.04,0.02,0,0.06,3.7),(-0.31,0.0,0,0.07,4.5),(-0.15,-0.05,0,0.06,4.35),(-0.09,-0.07,0,0.07,4.4),
    (0.0,-0.07,0,0.06,4.5),(-0.045,-0.045,0,0.07,3.25),(0.07,-0.045,0,0.08,2.95),(-0.14,-0.09,0.09,0.16,2.75),(0.02,0.06,0,0.06,3.1),
    (-0.06,0.10,0,0.06,2.9),(0.12,0.10,0,0.07,3.2),(0.06,0.12,0,0.06,3.0),(-0.10,0.11,0,0.05,3.3),(0.13,0.06,0,0.05,2.8)]

STARS_ALI = [(-0.45,0.395,0.08,0.1,4.1),(-0.575,0.355,0.06,0.06,4.45),(-0.515,0.335,0,0.04,2.85),(-0.745,0.325,0,0.04,3.4),(-0.75,0.29,0,0.05,4.3),
    (-0.386,0.32,0,0.05,4.45),(-0.35,0.32,0,0.05,4.5),(-0.26,0.325,0,0.03,3.65),(-0.305,0.27,0,0.03,3.55),(-0.53,0.26,0,0.04,4.55),
    (0.14,0.365,0.03,0.05,2.75),(0.22,0.334,0.05,0.07,2.6),(0.14,0.29,0,0.06,2.7),(0.21,0.28,0,0.07,2.6),(0.13,0.26,0,0.06,2.85),
    (0.0,0.29,0,0.07,3.25),(0.385,0.23,0.04,0.05,3.3),(0.29,0.21,0.03,0.04,3.0),(0.22,0.20,0,0.07,4.25),(0.17,0.215,0,0.06,3.55),
    (0.09,0.22,0,0.06,2.8),(-0.29,0.206,0,0.05,4.6),(-0.29,0.18,0,0.05,4.45),(-0.18,0.19,0,0.05,2.7),(-0.235,0.17,0,0.04,2.9),
    (-0.415,0.155,0,0.05,4.5),(-0.34,0.15,0,0.05,4.45),(-0.39,0.13,0,0.03,3.2),(-0.35,0.115,0,0.03,3.45),(-0.29,0.16,0,0.05,4.55),
    (-0.11,0.14,0,0.04,3.9),(-0.02,0.18,0,0.06,2.85),(0.05,0.20,0,0.06,3.1),(0.12,0.18,0,0.06,2.95),(0.18,0.165,0,0.05,3.2),
    (0.04,0.15,0,0.05,2.8),(-0.03,0.12,0,0.05,3.15),(0.06,0.11,0,0.06,2.7),(0.16,0.115,0,0.05,3.0),(0.23,0.125,0,0.04,3.5),
    (-0.16,0.10,0,0.05,3.05),(-0.11,0.10,0,0.05,3.3),(-0.02,0.07,0,0.05,4.5),(0.04,0.08,0,0.05,3.85),(0.085,0.05,0,0.05,3.9),
    (0.14,0.05,0,0.05,4.55),(-0.215,0.045,0,0.05,4.6),(-0.17,0.02,0,0.05,4.2),(-0.10,0.007,0,0.05,4.25),(-0.20,0.0,0,0.06,4.45),
    (-0.14,-0.01,0,0.06,4.5),(-0.08,-0.03,0,0.06,4.45),(-0.025,-0.02,0,0.05,3.45),(0.015,-0.01,0,0.05,3.9),(0.0,-0.035,0,0.05,3.95),
    (-0.11,0.045,0,0.05,3.3),(-0.035,0.045,0,0.05,3.4),(-0.296,0.0,0,0.05,4.5),(0.22,0.0,0,0.04,4.45),(0.32,0.03,0,0.04,4.35),
    (0.275,0.085,0,0.04,4.45),(0.33,0.10,0,0.04,4.5),(0.41,0.08,0,0.05,4.2),(0.015,-0.06,0,0.07,4.45),(0.015,-0.138,0,0.08,4.65),
    (-0.06,-0.05,0,0.07,2.75),(0.10,0.12,0,0.06,3.1),(-0.07,0.16,0,0.07,2.8)]

STARS_SII = [(-0.75,0.278,0,0.03,3.4),(-0.76,0.232,0,0.05,4.35),(-0.575,0.185,0,0.08,4.45),(-0.52,0.22,0,0.04,2.9),(-0.53,0.142,0,0.04,4.5),
    (-0.45,0.213,0,0.3,4.1),(-0.40,0.19,0.02,0.03,4.45),(-0.36,0.165,0,0.04,4.5),(-0.305,0.16,0,0.05,4.45),(-0.27,0.174,0,0.05,3.65),
    (-0.32,0.14,0,0.04,3.15),(-0.25,0.11,0,0.04,2.85),(-0.20,0.15,0,0.05,2.75),(-0.085,0.174,0,0.07,2.6),(-0.03,0.15,0,0.06,3.3),
    (0.06,0.213,0,0.12,2.65),(0.175,0.227,0,0.12,3.0),(0.23,0.188,0.04,0.1,2.9),(0.32,0.13,0.06,0.12,3.3),(0.185,0.138,0,0.06,2.8),
    (0.11,0.16,0,0.07,3.25),(0.175,0.16,0,0.06,3.55),(0.095,0.12,0,0.07,2.8),(0.15,0.10,0,0.06,2.75),(0.04,0.10,0,0.06,3.15),
    (-0.085,0.127,0,0.07,2.8),(-0.15,0.085,0,0.06,3.2),(-0.11,0.10,0,0.06,3.0),(-0.05,0.083,0,0.07,3.2),(0.065,0.083,0,0.07,3.3),
    (0.16,0.083,0,0.06,3.5),(0.0,0.12,0,0.07,3.1),(0.12,0.13,0,0.08,3.2),(-0.02,0.18,0,0.08,3.25),
    (-0.42,0.062,0,0.04,4.5),(-0.36,0.075,0,0.04,3.5),(-0.31,0.08,0,0.04,4.5),(-0.31,0.04,0,0.05,4.55),(-0.22,0.02,0,0.05,4.5),
    (-0.19,0.055,0,0.05,4.2),(-0.155,0.04,0,0.05,3.9),(-0.10,0.06,0,0.05,4.45),(-0.04,0.057,0,0.05,3.7),(-0.145,0.015,0,0.06,3.6),
    (-0.12,0.015,0,0.06,4.2),(-0.06,0.02,0,0.06,3.25),(0.03,0.025,0,0.05,3.95),(0.025,0.007,0,0.05,3.95),(0.085,0.007,0,0.05,4.45),
    (0.105,0.05,0,0.05,3.55),(0.005,-0.03,0,0.05,4.45),(0.005,-0.072,0,0.08,4.6),(0.185,0.02,0,0.05,4.3),(0.195,0.0,0,0.05,4.45),
    (0.245,0.007,0,0.05,4.5),(0.29,0.007,0,0.05,4.35),(0.30,0.05,0,0.04,4.45),(0.415,0.01,0.02,0.06,4.2),(-0.07,0.0,0,0.07,3.3),
    (-0.16,-0.03,0,0.07,2.8),(-0.13,-0.04,0,0.06,4.4)]

STARS_CAI = [(-0.76,0.266,0,0.06,4.3),(-0.75,0.25,0,0.03,3.4),(-0.575,0.23,0.05,0.1,4.45),(-0.54,0.19,0,0.05,4.5),(-0.53,0.17,0,0.04,2.85),
    (-0.45,0.219,0.05,0.28,4.1),(-0.385,0.25,0,0.1,4.45),(-0.35,0.215,0,0.09,4.4),(-0.35,0.16,0,0.05,4.5),(-0.30,0.135,0,0.06,4.45),
    (-0.26,0.14,0,0.06,3.65),(-0.31,0.11,0,0.05,3.2),(-0.42,0.09,0,0.05,4.5),(-0.39,0.09,0,0.04,3.25),(-0.30,0.08,0,0.06,4.5),
    (-0.35,0.05,0,0.04,3.55),(-0.20,0.04,0,0.05,2.8),(-0.15,0.06,0,0.09,4.45),(-0.10,0.05,0,0.08,3.9),(-0.05,0.07,0,0.08,4.5),
    (0.02,0.085,0,0.09,4.55),(-0.19,0.005,0,0.06,4.5),(-0.10,0.025,0,0.06,4.45),(-0.04,0.02,0,0.06,4.5),(0.02,0.025,0,0.06,4.55),
    (-0.01,0.055,0,0.06,3.25),(0.04,0.05,0,0.07,3.3),(-0.09,0.0,0,0.06,3.2),(-0.03,0.0,0,0.07,3.0),(0.05,0.0,0,0.07,3.9),
    (0.06,-0.02,0,0.07,3.95),(0.12,-0.03,0,0.07,4.5),(0.12,0.01,0,0.08,2.8),(0.085,0.03,0,0.08,2.7),(0.18,-0.012,0,0.07,3.15),
    (0.22,-0.04,0,0.08,2.8),(0.17,-0.05,0,0.08,2.9),(0.11,-0.05,0,0.08,3.2),(0.20,-0.065,0,0.07,3.45),(0.27,-0.035,0,0.05,4.45),
    (0.32,-0.05,0,0.06,4.35),(0.32,-0.035,0,0.05,4.5),(0.26,-0.075,0,0.06,2.95),(0.37,-0.08,0.03,0.1,3.3),(0.41,-0.06,0.04,0.04,4.25),
    (0.21,-0.095,0.06,0.08,4.3),(-0.145,-0.077,0.1,0.15,2.75),(-0.21,0.02,0,0.05,3.55),(0.15,0.02,0,0.07,3.1),(0.00,-0.03,0,0.08,2.9),
    (0.08,-0.06,0,0.08,3.0),(-0.06,0.03,0,0.06,2.75)]

STARS_SCII = [(-0.745,0.233,0,0.04,3.4),(-0.75,0.152,0,0.04,4.3),(-0.515,0.216,0,0.03,2.85),(-0.40,0.21,0,0.04,4.45),(-0.30,0.199,0,0.04,4.6),
    (-0.265,0.24,0,0.08,3.65),(-0.35,0.175,0,0.04,4.45),(-0.575,0.145,0,0.06,4.45),(-0.53,0.155,0,0.04,4.5),(-0.31,0.155,0,0.04,4.45),
    (-0.35,0.13,0,0.04,4.35),(-0.30,0.137,0,0.04,3.2),(-0.39,0.11,0,0.04,3.25),(-0.35,0.105,0,0.04,3.5),(-0.30,0.12,0,0.04,2.85),
    (-0.30,0.09,0,0.05,4.5),(-0.18,0.13,0,0.05,2.75),(-0.175,0.14,0,0.04,4.2),(-0.14,0.11,0,0.05,3.9),(-0.42,0.063,0,0.06,4.45),
    (-0.41,0.035,0,0.05,4.5),(-0.33,0.06,0,0.05,4.5),(-0.29,0.005,0,0.05,4.45),(-0.455,-0.165,0.06,0.08,4.1),(-0.29,-0.118,0,0.07,4.45),
    (-0.22,0.072,0,0.05,4.6),(-0.20,0.05,0,0.05,2.8),(-0.17,0.035,0,0.05,4.5),(-0.15,0.06,0,0.05,3.2),(-0.11,0.075,0,0.05,3.15),
    (-0.07,0.10,0,0.06,3.0),(-0.01,0.10,0,0.06,3.3),(0.03,0.08,0,0.06,3.85),(0.07,0.11,0,0.07,2.7),(0.12,0.125,0,0.06,3.45),
    (0.18,0.154,0,0.06,3.4),(0.19,0.175,0,0.07,2.8),(0.13,0.226,0.04,0.09,2.75),(0.0,0.226,0,0.06,3.3),(0.35,0.229,0.06,0.14,3.3),
    (0.26,0.147,0,0.05,4.5),(0.30,0.09,0,0.05,4.5),(0.39,0.09,0,0.06,4.25),(0.30,0.055,0,0.05,4.3),(0.20,0.05,0,0.06,2.8),
    (0.16,0.08,0,0.06,4.2),(0.12,0.035,0,0.06,4.55),(0.05,0.045,0,0.06,2.7),(-0.015,0.02,0,0.06,4.5),(-0.06,0.006,0,0.06,3.25),
    (-0.11,0.02,0,0.06,3.45),(-0.10,-0.015,0,0.06,2.9),(0.02,-0.01,0,0.07,3.0),(0.07,-0.01,0,0.07,2.85),(0.15,-0.015,0,0.07,3.1),
    (-0.06,-0.02,0,0.06,3.55),(-0.14,-0.025,0,0.06,4.5),(-0.08,-0.045,0,0.06,4.45),(0.005,-0.065,0,0.06,4.5),(0.01,-0.09,0,0.06,4.45),
    (-0.10,-0.09,0,0.08,4.25),(-0.17,-0.066,0.04,0.05,4.3),(-0.15,-0.045,0,0.07,2.75),(0.12,-0.06,0,0.07,2.8),(0.17,-0.035,0,0.06,3.15)]

STARS_TII = [(-0.577,0.428,0.05,0.08,4.45),(-0.76,0.347,0,0.08,4.3),(-0.75,0.33,0,0.04,3.4),(-0.535,0.288,0,0.04,4.45),(-0.52,0.27,0,0.06,2.85),
    (-0.46,0.278,0.03,0.18,4.1),(-0.35,0.347,0,0.07,4.45),(-0.355,0.335,0,0.05,4.5),(-0.39,0.31,0,0.05,4.45),(-0.30,0.30,0,0.09,3.65),
    (-0.34,0.246,0,0.05,3.55),(-0.33,0.236,0,0.06,4.55),(-0.37,0.21,0,0.05,4.5),(-0.33,0.19,0,0.06,4.45),(-0.44,0.168,0,0.05,4.5),
    (-0.325,0.16,0,0.05,2.85),(-0.325,0.145,0,0.05,4.45),(-0.37,0.12,0,0.04,3.45),(-0.41,0.095,0,0.04,3.15),(-0.163,0.163,0,0.1,4.25),
    (-0.115,0.145,0,0.05,3.9),(-0.02,0.227,0,0.1,3.2),(0.015,0.19,0,0.05,3.3),(-0.01,0.14,0,0.05,3.3),(0.115,0.17,0,0.06,2.8),
    (0.115,0.147,0,0.05,3.75),(0.20,0.20,0.08,0.08,4.25),(0.25,0.12,0,0.05,4.45),(0.32,0.105,0,0.05,4.45),(0.415,0.095,0,0.06,4.2),
    (0.37,0.077,0,0.05,3.25),(0.32,0.07,0,0.04,4.45),(0.32,0.023,0,0.05,4.35),(0.265,-0.006,0,0.06,2.9),(0.21,-0.01,0,0.06,3.55),
    (-0.143,-0.055,0.14,0.15,2.75),(-0.225,0.10,0,0.06,2.8),(-0.18,0.105,0,0.06,2.65),(-0.13,0.095,0,0.06,3.2),(-0.08,0.11,0,0.06,4.35),
    (-0.055,0.137,0,0.06,3.45),(-0.20,0.066,0,0.06,4.5),(-0.185,0.037,0,0.06,4.45),(-0.145,0.063,0,0.06,4.55),(-0.105,0.073,0,0.07,3.25),
    (-0.06,0.08,0,0.06,4.5),(-0.01,0.075,0,0.06,4.45),(0.07,0.075,0,0.06,3.7),(0.04,0.045,0,0.07,3.9),(0.11,0.05,0,0.07,4.5),
    (0.13,0.085,0,0.07,3.0),(0.19,0.075,0,0.06,3.15),(0.19,0.05,0,0.07,2.8),(0.115,0.027,0,0.08,3.2),(0.0,0.015,0,0.08,4.5),
    (-0.05,0.03,0,0.08,2.8),(-0.095,0.02,0,0.08,2.6),(0.01,-0.005,0,0.06,4.6),(-0.03,0.005,0,0.06,4.2),(0.05,0.015,0,0.09,2.85),
    (0.07,-0.005,0,0.09,3.1),(0.15,0.0,0,0.08,2.9),(0.10,-0.02,0,0.09,2.8),(0.17,-0.03,0,0.07,3.3)]

STARS_TIII = [(-0.76,0.30,0,0.03,3.4),(-0.77,0.277,0,0.04,4.3),(-0.513,0.28,0,0.03,2.8),(-0.45,0.317,0.04,0.17,4.1),(-0.39,0.25,0,0.05,4.45),
    (-0.26,0.255,0,0.04,3.65),(-0.30,0.235,0,0.07,4.55),(-0.31,0.22,0,0.04,3.55),(-0.35,0.195,0,0.05,4.5),(-0.30,0.195,0,0.05,4.45),
    (-0.35,0.165,0,0.05,4.35),(-0.58,0.18,0,0.07,4.45),(-0.54,0.16,0,0.04,4.5),(-0.31,0.145,0,0.04,3.15),(-0.29,0.12,0,0.04,2.85),
    (-0.35,0.11,0,0.04,3.45),(-0.40,0.10,0,0.04,3.2),(-0.30,0.10,0,0.04,4.5),(-0.17,0.14,0,0.12,4.25),(-0.13,0.10,0,0.05,3.9),
    (-0.13,0.12,0,0.05,3.25),(-0.02,0.095,0,0.05,3.3),(0.0,0.15,0,0.06,3.3),(-0.42,0.04,0,0.05,4.5),(-0.34,-0.025,0,0.04,4.45),
    (-0.30,0.013,0,0.04,4.35),(-0.25,0.055,0,0.05,2.8),(-0.22,0.04,0,0.05,4.5),(-0.20,0.08,0,0.05,2.75),(-0.14,0.065,0,0.05,3.45),
    (-0.17,-0.027,0,0.06,4.5),(-0.13,-0.003,0,0.05,3.5),(-0.09,-0.022,0,0.06,4.45),(-0.07,0.01,0,0.06,2.9),(-0.03,0.005,0,0.06,4.5),
    (-0.06,0.04,0,0.06,3.2),(0.02,0.05,0,0.06,3.9),(0.08,0.015,0,0.06,4.45),(0.10,0.035,0,0.06,2.85),(0.14,-0.027,0,0.06,3.45),
    (0.17,0.0,0,0.06,4.5),(0.22,0.018,0,0.06,4.45),(0.265,0.015,0,0.06,4.35),(0.416,-0.003,0,0.05,4.2),(0.37,-0.027,0,0.1,3.3),
    (0.21,-0.055,0,0.06,2.9),(0.15,-0.05,0,0.08,2.85),(0.02,-0.035,0,0.08,2.8),(0.055,-0.047,0,0.08,3.15),(0.0,-0.075,0,0.08,3.0),
    (0.07,-0.075,0,0.1,2.65),(0.15,-0.10,0,0.1,2.8),(0.223,-0.146,0.03,0.09,2.6),(-0.145,-0.083,0.1,0.16,2.75),(-0.10,-0.065,0,0.12,4.2),
    (-0.02,-0.085,0,0.06,4.45),(-0.08,-0.053,0,0.07,3.3),(0.11,-0.07,0,0.09,3.1),(0.05,-0.02,0,0.08,2.75)]

STARS_CRI = [(-0.77,0.054,0,0.04,4.3),(-0.755,0.001,0,0.03,3.4),(-0.575,0.104,0.06,0.1,4.45),(-0.45,0.104,0.07,0.16,4.1),(-0.53,0.062,0,0.04,4.55),
    (-0.52,0.0,0,0.03,2.8),(-0.42,0.048,0,0.04,4.5),(-0.355,0.086,0,0.08,4.5),(-0.345,0.062,0,0.05,4.45),(-0.30,0.057,0,0.05,4.35),
    (-0.26,0.048,0,0.04,3.7),(-0.18,0.076,0.04,0.13,4.25),(-0.39,-0.01,0,0.03,3.15),(-0.355,0.0,0,0.04,3.45),(-0.31,0.01,0,0.05,4.5),
    (-0.21,-0.01,0,0.05,4.5),(-0.20,-0.015,0,0.05,4.45),(-0.24,-0.005,0,0.05,2.85),(-0.135,0.024,0,0.05,3.9),(-0.10,0.038,0,0.07,4.35),
    (-0.05,0.057,0,0.1,4.5),(-0.01,0.076,0,0.09,4.45),(0.03,0.057,0,0.08,4.55),(-0.05,0.028,0,0.06,4.25),(-0.13,0.07,0,0.1,4.6),
    (-0.09,0.01,0,0.05,3.2),(-0.03,0.0,0,0.05,2.8),(0.03,0.005,0,0.05,3.9),(0.01,0.024,0,0.06,4.45),(0.09,0.028,0,0.08,4.6),
    (0.11,0.005,0,0.06,2.75),(0.18,0.01,0,0.05,3.45),(0.19,0.038,0,0.06,4.25),(0.30,0.033,0,0.05,4.45),(0.30,0.01,0,0.05,4.35),
    (0.39,-0.005,0,0.04,4.25),(0.35,-0.03,0.04,0.1,3.3),(0.24,-0.055,0,0.05,3.0),(0.20,-0.015,0,0.06,2.6),(0.12,-0.02,0,0.07,3.2),
    (0.07,-0.015,0,0.07,3.25),(-0.05,-0.04,0,0.06,2.6),(-0.10,-0.03,0,0.05,3.15),(-0.16,-0.073,0.14,0.16,2.75),(-0.01,-0.05,0,0.06,2.9),
    (0.03,-0.03,0,0.06,3.0),(-0.20,0.02,0,0.05,4.3),(0.14,0.04,0,0.07,4.5),(0.06,0.05,0,0.08,4.4),(0.16,-0.04,0,0.07,2.85)]

STARS_NII = [(-0.76,0.015,0,0.04,4.3),(-0.75,0.04,0,0.03,3.4),(-0.57,0.03,0,0.06,4.45),(-0.52,0.015,0,0.04,4.55),(-0.45,0.076,0.06,0.2,4.1),
    (-0.35,0.063,0,0.04,4.45),(-0.39,0.043,0,0.04,4.35),(-0.30,0.06,0,0.04,3.65),(-0.33,0.033,0,0.04,4.55),(-0.42,0.006,0,0.04,4.5),
    (-0.36,-0.004,0,0.04,3.45),(-0.31,-0.004,0,0.04,4.5),(-0.163,0.036,0,0.12,4.25),(-0.25,0.0,0,0.04,2.85),(-0.21,-0.02,0,0.04,4.5),
    (-0.17,-0.048,0,0.08,3.25),(-0.14,-0.013,0,0.05,3.9),(-0.11,-0.02,0,0.05,4.45),(-0.10,0.04,0,0.08,2.6),(-0.06,0.06,0,0.06,4.45),
    (-0.02,0.05,0,0.06,3.9),(-0.06,0.015,0,0.05,3.2),(-0.035,0.005,0,0.05,4.45),(0.0,0.01,0,0.06,3.95),(0.04,0.015,0,0.07,2.8),
    (0.07,0.04,0,0.06,4.5),(0.05,0.065,0,0.07,3.25),(0.08,0.085,0,0.1,2.6),(0.15,0.105,0,0.12,2.85),(0.17,0.085,0,0.06,4.35),
    (0.16,0.065,0,0.08,2.6),(0.21,0.085,0,0.07,3.25),(0.12,0.07,0,0.07,3.45),(0.28,0.08,0,0.05,4.45),(0.27,0.055,0,0.05,4.5),
    (0.37,0.175,0.05,0.12,3.3),(0.415,0.064,0,0.05,4.2),(0.01,-0.048,0,0.06,4.45),(0.01,-0.085,0,0.07,4.6),(-0.08,-0.048,0,0.06,3.3),
    (-0.12,-0.038,0,0.06,3.2),(0.02,-0.013,0,0.07,2.9),(0.04,-0.028,0,0.08,3.1),(0.10,0.02,0,0.08,3.0),(-0.20,0.02,0,0.05,2.9),
    (0.10,-0.03,0,0.07,3.2),(-0.03,-0.03,0,0.06,3.25),(0.20,0.04,0,0.06,4.45)]

FIELD = [FIELD_CI + CORE_CI, FIELD_OI + CORE_OI, FIELD_NAI + CORE_NAI,
         FIELD_MGI + CORE_MGI, FIELD_ALI + CORE_ALI, FIELD_SII + CORE_SII,
         FIELD_CAI + CORE_CAI, FIELD_SCII + CORE_SCII, FIELD_TII + CORE_TII,
         FIELD_TIII + CORE_TIII, FIELD_CRI + CORE_CRI, FIELD_NII + CORE_NII]
STARS = [STARS_CI, STARS_OI, STARS_NAI, STARS_MGI, STARS_ALI, STARS_SII,
         STARS_CAI, STARS_SCII, STARS_TII, STARS_TIII, STARS_CRI, STARS_NII]

X_TICKS = [-0.6, -0.4, -0.2, 0.0, 0.2, 0.4]
Y_TICKS = [-0.2, -0.1, 0.0, 0.1, 0.2, 0.3, 0.4]
CB_TICKS = [2.50, 2.75, 3.00, 3.25, 3.50, 3.75, 4.00, 4.25, 4.50]

GMIN, GMAX = 2.49, 4.67

# matplotlib style jet
JET = [[0.0, 'rgb(0,0,128)'], [0.11, 'rgb(0,0,255)'], [0.125, 'rgb(0,0,255)'],
       [0.34, 'rgb(0,219,255)'], [0.35, 'rgb(0,229,247)'], [0.375, 'rgb(20,255,226)'],
       [0.64, 'rgb(239,255,8)'], [0.65, 'rgb(247,245,0)'], [0.66, 'rgb(255,236,0)'],
       [0.89, 'rgb(255,19,0)'], [0.91, 'rgb(232,0,0)'], [1.0, 'rgb(128,0,0)']]

FONT = 'DejaVu Sans'
TXT = '#262626'

fig = go.Figure()

for i, lab in enumerate(LABELS):
    row, col = divmod(i, 3)
    n = '' if i == 0 else str(i + 1)
    xa, ya = 'x' + n, 'y' + n

    bx, by = zip(*FIELD[i])
    fig.add_trace(go.Scatter(x=bx, y=by, mode='markers', xaxis=xa, yaxis=ya,
                             marker=dict(size=7, color='rgba(10,10,10,0.8)', line=dict(width=0)),
                             hoverinfo='skip', showlegend=False))

    # error bars, one trace per logg colour
    groups = {}
    for x, y, xe, ye, g in STARS[i]:
        seg = groups.setdefault(g, ([], []))
        seg[0].extend([x, x, None])
        seg[1].extend([y - ye, y + ye, None])
        if xe:
            seg[0].extend([x - xe, x + xe, None])
            seg[1].extend([y, y, None])
    for g, (ex, ey) in groups.items():
        c = sample_colorscale(JET, [(g - GMIN) / (GMAX - GMIN)])[0]
        fig.add_trace(go.Scatter(x=ex, y=ey, mode='lines', xaxis=xa, yaxis=ya,
                                 line=dict(color=c, width=2), opacity=0.95,
                                 hoverinfo='skip', showlegend=False))

    sx, sy, _, _, sg = zip(*STARS[i])
    fig.add_trace(go.Scatter(x=sx, y=sy, mode='markers', xaxis=xa, yaxis=ya,
                             marker=dict(size=13, color=sg, coloraxis='coloraxis',
                                         opacity=0.8, line=dict(width=0)),
                             showlegend=False))

    common = dict(showline=True, linecolor='#444', linewidth=1.2, mirror='allticks',
                  ticks='inside', ticklen=5, tickwidth=1, tickcolor='#444',
                  showgrid=False, zeroline=False, tickangle=0,
                  tickfont=dict(family=FONT, size=14, color=TXT))
    fig.layout['xaxis' + n] = dict(
        common, domain=[col / 3, (col + 1) / 3], range=[-0.79, 0.49], anchor=ya,
        tickvals=X_TICKS, ticktext=[f'{v:.1f}'.replace('-', '\u2212') for v in X_TICKS],
        showticklabels=(row == 3),
        minor=dict(ticks='inside', ticklen=3, dtick=0.05, tick0=0, tickcolor='#444'))
    fig.layout['yaxis' + n] = dict(
        common, domain=[1 - (row + 1) / 4, 1 - row / 4], range=[-0.246, 0.494], anchor=xa,
        tickvals=Y_TICKS, ticktext=[f'{v:.1f}'.replace('-', '\u2212') for v in Y_TICKS],
        showticklabels=(col == 0),
        minor=dict(ticks='inside', ticklen=3, dtick=0.025, tick0=0, tickcolor='#444'))

    fig.add_annotation(text=lab, xref=xa + ' domain', yref=ya + ' domain',
                       x=0.905, y=0.865, xanchor='right', yanchor='middle', showarrow=False,
                       font=dict(family=FONT, size=15, color=TXT))

fig.add_annotation(text='[X/Fe]', xref='paper', yref='paper', x=-0.094, y=0.5,
                   xanchor='center', yanchor='middle', textangle=-90, showarrow=False,
                   font=dict(family=FONT, size=16, color=TXT))
fig.add_annotation(text='[Fe/H]', xref='paper', yref='paper', x=0.547, y=-0.039,
                   xanchor='center', yanchor='middle', showarrow=False,
                   font=dict(family=FONT, size=16, color=TXT))

fig.update_layout(
    width=830, height=1132,
    margin=dict(l=83, r=100, t=22, b=80),
    paper_bgcolor='white', plot_bgcolor='white',
    font=dict(family=FONT, color=TXT),
    coloraxis=dict(
        colorscale=JET, cmin=GMIN, cmax=GMAX,
        colorbar=dict(
            x=1.018, xanchor='left', y=0.999, yanchor='top',
            len=0.99, lenmode='fraction', thickness=23, thicknessmode='pixels',
            outlinewidth=1, outlinecolor='#555',
            tickvals=CB_TICKS, ticktext=[f'{v:.2f}' for v in CB_TICKS],
            ticks='', tickangle=-90,
            tickfont=dict(family=FONT, size=13, color=TXT),
            title=dict(text='log<i>g</i> (cgs)', side='right',
                       font=dict(family=FONT, size=15, color=TXT)))),
)

fig.write_html('out.html')
